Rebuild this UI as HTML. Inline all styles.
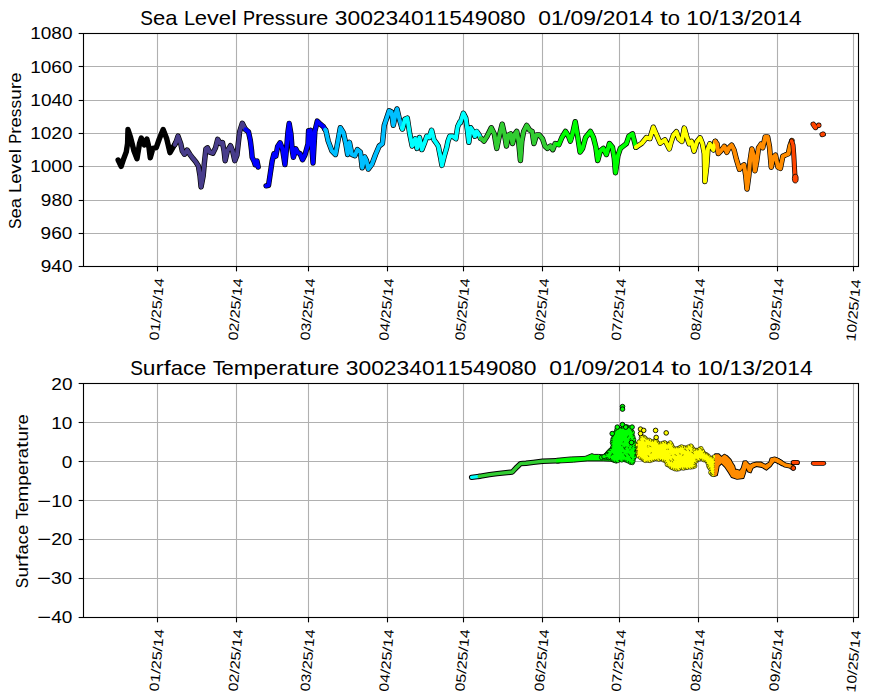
<!DOCTYPE html>
<html><head><meta charset="utf-8"><title>Sea Level Pressure and Surface Temperature</title><style>html,body{margin:0;padding:0;background:#fff;overflow:hidden}svg{display:block}</style></head>
<body><svg width="873" height="700" viewBox="0 0 873 700" font-family='"Liberation Sans", sans-serif' fill="#000">
<rect width="873" height="700" fill="#fff"/>
<line x1="157.5" y1="33.5" x2="157.5" y2="266.5" stroke="#b0b0b0" stroke-width="1.11"/>
<line x1="236.5" y1="33.5" x2="236.5" y2="266.5" stroke="#b0b0b0" stroke-width="1.11"/>
<line x1="308.5" y1="33.5" x2="308.5" y2="266.5" stroke="#b0b0b0" stroke-width="1.11"/>
<line x1="387.5" y1="33.5" x2="387.5" y2="266.5" stroke="#b0b0b0" stroke-width="1.11"/>
<line x1="463.5" y1="33.5" x2="463.5" y2="266.5" stroke="#b0b0b0" stroke-width="1.11"/>
<line x1="542.5" y1="33.5" x2="542.5" y2="266.5" stroke="#b0b0b0" stroke-width="1.11"/>
<line x1="619.5" y1="33.5" x2="619.5" y2="266.5" stroke="#b0b0b0" stroke-width="1.11"/>
<line x1="698.5" y1="33.5" x2="698.5" y2="266.5" stroke="#b0b0b0" stroke-width="1.11"/>
<line x1="777.5" y1="33.5" x2="777.5" y2="266.5" stroke="#b0b0b0" stroke-width="1.11"/>
<line x1="853.5" y1="33.5" x2="853.5" y2="266.5" stroke="#b0b0b0" stroke-width="1.11"/>
<line x1="83.5" y1="33.5" x2="858.5" y2="33.5" stroke="#b0b0b0" stroke-width="1.11"/>
<line x1="83.5" y1="66.5" x2="858.5" y2="66.5" stroke="#b0b0b0" stroke-width="1.11"/>
<line x1="83.5" y1="100.5" x2="858.5" y2="100.5" stroke="#b0b0b0" stroke-width="1.11"/>
<line x1="83.5" y1="133.5" x2="858.5" y2="133.5" stroke="#b0b0b0" stroke-width="1.11"/>
<line x1="83.5" y1="166.5" x2="858.5" y2="166.5" stroke="#b0b0b0" stroke-width="1.11"/>
<line x1="83.5" y1="200.5" x2="858.5" y2="200.5" stroke="#b0b0b0" stroke-width="1.11"/>
<line x1="83.5" y1="233.5" x2="858.5" y2="233.5" stroke="#b0b0b0" stroke-width="1.11"/>
<line x1="83.5" y1="266.5" x2="858.5" y2="266.5" stroke="#b0b0b0" stroke-width="1.11"/>
<line x1="157.5" y1="383.5" x2="157.5" y2="617.5" stroke="#b0b0b0" stroke-width="1.11"/>
<line x1="236.5" y1="383.5" x2="236.5" y2="617.5" stroke="#b0b0b0" stroke-width="1.11"/>
<line x1="308.5" y1="383.5" x2="308.5" y2="617.5" stroke="#b0b0b0" stroke-width="1.11"/>
<line x1="387.5" y1="383.5" x2="387.5" y2="617.5" stroke="#b0b0b0" stroke-width="1.11"/>
<line x1="463.5" y1="383.5" x2="463.5" y2="617.5" stroke="#b0b0b0" stroke-width="1.11"/>
<line x1="542.5" y1="383.5" x2="542.5" y2="617.5" stroke="#b0b0b0" stroke-width="1.11"/>
<line x1="619.5" y1="383.5" x2="619.5" y2="617.5" stroke="#b0b0b0" stroke-width="1.11"/>
<line x1="698.5" y1="383.5" x2="698.5" y2="617.5" stroke="#b0b0b0" stroke-width="1.11"/>
<line x1="777.5" y1="383.5" x2="777.5" y2="617.5" stroke="#b0b0b0" stroke-width="1.11"/>
<line x1="853.5" y1="383.5" x2="853.5" y2="617.5" stroke="#b0b0b0" stroke-width="1.11"/>
<line x1="83.5" y1="383.5" x2="858.5" y2="383.5" stroke="#b0b0b0" stroke-width="1.11"/>
<line x1="83.5" y1="422.5" x2="858.5" y2="422.5" stroke="#b0b0b0" stroke-width="1.11"/>
<line x1="83.5" y1="461.5" x2="858.5" y2="461.5" stroke="#b0b0b0" stroke-width="1.11"/>
<line x1="83.5" y1="500.5" x2="858.5" y2="500.5" stroke="#b0b0b0" stroke-width="1.11"/>
<line x1="83.5" y1="539.5" x2="858.5" y2="539.5" stroke="#b0b0b0" stroke-width="1.11"/>
<line x1="83.5" y1="578.5" x2="858.5" y2="578.5" stroke="#b0b0b0" stroke-width="1.11"/>
<line x1="83.5" y1="617.5" x2="858.5" y2="617.5" stroke="#b0b0b0" stroke-width="1.11"/>
<polyline points="118.14,159.99 121.14,166.41 123.71,158.7 126.28,151.85 127.57,143.28 127.99,129.57 130.57,137.28 133.99,150.99 136.99,158.7 139.56,143.28 141.28,138.14 144.28,144.99 146.85,138.99 148.99,147.56 150.27,157.84 152.84,148.42 156.27,147.56 159.27,138.99 163.13,129.57 166.56,138.14 169.98,152.7 173.41,146.71 175.98,142.42" fill="none" stroke="#000" stroke-width="5.4" stroke-linejoin="round" stroke-linecap="round"/>
<polyline points="174.82,144.63 175.89,142.49 178.03,136.06 180.71,143.56 182.32,151.06 184.46,154.27 187.14,149.99 189.81,154.27 193.03,158.55 195.7,161.77 198.38,166.05 199.99,175.69 201.06,186.93 203.2,175.69 204.27,163.91 205.88,148.92 207.48,147.84 209.63,152.13 212.84,153.2 215.52,147.84 217.66,139.28 220.33,143.56 222.48,142.49 224.08,151.06 225.15,160.7 227.3,151.06 230.51,145.7 232.65,151.06 234.79,160.7 236.93,155.34 239.61,131.78 242.29,123.21 245.5,129.64" fill="none" stroke="#000" stroke-width="5.4" stroke-linejoin="round" stroke-linecap="round"/>
<polyline points="245.46,129.42 248.5,131.85 250.32,140.35 251.53,150.06 252.14,157.34 253.96,160.99 255.17,164.63 257.0,160.99 258.21,167.06" fill="none" stroke="#000" stroke-width="5.4" stroke-linejoin="round" stroke-linecap="round"/>
<polyline points="266.1,185.87 268.53,185.27 270.35,173.13 272.17,160.99 273.99,153.7 275.81,156.13 277.63,146.42 280.06,142.78 282.49,148.85 284.92,164.63 286.74,146.42 287.95,131.85 289.17,123.35 290.99,134.28 292.2,150.06 293.41,157.34 295.84,148.85 297.66,152.49 300.09,153.7 302.52,159.77 304.95,154.92 307.98,143.99 308.59,130.64 310.41,134.28 310.61,130.2 313.03,162.98 314.86,131.42 317.28,121.1 320.32,124.14 323.35,126.56 325.17,129.6" fill="none" stroke="#000" stroke-width="5.4" stroke-linejoin="round" stroke-linecap="round"/>
<polyline points="325.17,129.6 325.78,130.2 328.21,141.13 331.85,150.84 335.49,154.48 337.92,141.13 340.35,127.78 343.38,132.63 345.81,143.56 347.63,154.48 349.45,142.34 351.88,154.48 354.92,155.7 357.34,149.63 360.38,152.06 362.2,167.84 364.63,156.91 366.45,160.55 368.27,169.05 371.91,164.2 375.55,154.48 379.2,145.99 382.43,143.56 384.25,125.35 386.68,118.07 389.1,110.78 391.53,112.0 393.35,125.35 395.17,115.64 397.0,108.96 399.42,119.28 401.85,127.78" fill="none" stroke="#000" stroke-width="5.4" stroke-linejoin="round" stroke-linecap="round"/>
<polyline points="401.85,127.78 402.46,128.99 404.89,119.28 407.31,118.07 409.74,133.85 412.17,145.99 415.2,138.7 417.03,148.41 419.45,137.49 421.88,149.63 424.31,143.56 426.74,136.27 429.17,137.49 431.59,130.2 434.02,139.92 435.84,142.34 438.27,145.99 440.7,158.13 441.91,165.41 444.34,155.7 446.77,147.2 447.98,141.13 449.8,136.27 452.84,136.27 455.87,138.7 457.69,126.56 460.0,121.71 460.32,122.92 463.35,113.21 465.78,118.07 467.6,131.42 468.82,142.34 470.64,127.78 473.07,131.42 474.89,136.27 476.71,131.42 479.14,135.06 480.59,138.34" fill="none" stroke="#000" stroke-width="5.4" stroke-linejoin="round" stroke-linecap="round"/>
<polyline points="480.59,138.34 481.56,138.7 483.99,141.13 487.03,136.27 491.27,127.78 494.31,133.85 496.74,148.41 499.77,133.85 502.2,124.14 504.63,135.06 506.45,145.99 508.27,135.06 510.7,133.85 512.52,143.56 514.95,133.85 516.77,131.42 518.59,141.13 520.41,160.55 521.82,141.13 523.64,131.42 526.68,125.35 529.71,130.2 532.14,131.42 533.96,143.56 536.39,135.06 539.42,135.06 542.46,138.7 544.89,145.99 547.31,148.41 550.35,145.99 552.78,149.63 555.2,143.56 556.66,144.17" fill="none" stroke="#000" stroke-width="5.4" stroke-linejoin="round" stroke-linecap="round"/>
<polyline points="556.66,144.17 558.85,144.77 561.88,137.49 565.52,131.42 568.56,136.27 570.38,141.13 572.81,132.63 575.24,121.71 577.66,136.27 580.09,152.06 582.52,148.41 585.55,137.49 590.41,131.42 593.44,137.49 595.87,147.2 597.69,160.55 600.32,150.84 603.35,148.41 606.39,154.48 609.42,143.56 612.46,147.2 614.28,158.13 615.49,172.69 617.92,155.7 620.35,148.41 623.38,145.99 626.42,143.56 628.85,136.27 632.49,133.85 634.31,141.13 635.89,147.2" fill="none" stroke="#000" stroke-width="5.4" stroke-linejoin="round" stroke-linecap="round"/>
<polyline points="635.9,147.2 641.9,143.2 646.4,137.5 649.9,138.6 653.3,127.2 656.7,135.2 660.2,143.2 664.8,139.8 669.3,148.9 670.93,142.63 673.35,135.35 676.39,131.71 678.82,138.99 681.85,141.42 684.28,128.07 686.71,136.56 689.14,143.85 691.56,141.42 693.99,151.13 697.03,141.42 700.06,137.78 702.49,143.85 704.31,153.56 704.92,181.48 706.74,165.7 707.95,148.7 709.77,143.85 713.41,149.92 715.24,141.42" fill="none" stroke="#000" stroke-width="5.4" stroke-linejoin="round" stroke-linecap="round"/>
<polyline points="715.24,141.42 717.06,143.85 718.27,153.56 720.7,151.13 724.34,146.27 726.77,152.34 729.2,147.49 731.62,145.06 734.05,149.92 736.48,159.63 739.51,169.34 740.93,167.2 743.96,164.77 745.78,175.7 747.0,189.05 748.82,175.7 750.03,161.13 751.85,148.99 753.67,156.27 754.89,170.84 756.71,161.13 758.53,147.78 760.96,144.14 762.78,147.78 765.2,136.85 767.63,136.85 769.45,146.56 771.27,167.2 773.1,157.49 775.52,155.06 777.95,167.2 780.38,168.41 782.81,156.27 785.24,155.06 788.27,153.85 790.09,145.35 791.91,140.49" fill="none" stroke="#000" stroke-width="5.4" stroke-linejoin="round" stroke-linecap="round"/>
<polyline points="813.25,124.25 815.5,127.5" fill="none" stroke="#000" stroke-width="5.4" stroke-linejoin="round" stroke-linecap="round"/>
<polyline points="818.75,125.25 818.75,125.25" fill="none" stroke="#000" stroke-width="5.4" stroke-linejoin="round" stroke-linecap="round"/>
<polyline points="822.2,134.5 823.2,134.2" fill="none" stroke="#000" stroke-width="5.4" stroke-linejoin="round" stroke-linecap="round"/>
<polyline points="118.14,159.99 121.14,166.41 123.71,158.7 126.28,151.85 127.57,143.28 127.99,129.57 130.57,137.28 133.99,150.99 136.99,158.7 139.56,143.28 141.28,138.14 144.28,144.99 146.85,138.99 148.99,147.56 150.27,157.84 152.84,148.42 156.27,147.56 159.27,138.99 163.13,129.57 166.56,138.14 169.98,152.7 173.41,146.71 175.98,142.42" fill="none" stroke="#000000" stroke-width="4.0" stroke-linejoin="round" stroke-linecap="round"/>
<polyline points="174.82,144.63 175.89,142.49 178.03,136.06 180.71,143.56 182.32,151.06 184.46,154.27 187.14,149.99 189.81,154.27 193.03,158.55 195.7,161.77 198.38,166.05 199.99,175.69 201.06,186.93 203.2,175.69 204.27,163.91 205.88,148.92 207.48,147.84 209.63,152.13 212.84,153.2 215.52,147.84 217.66,139.28 220.33,143.56 222.48,142.49 224.08,151.06 225.15,160.7 227.3,151.06 230.51,145.7 232.65,151.06 234.79,160.7 236.93,155.34 239.61,131.78 242.29,123.21 245.5,129.64" fill="none" stroke="#483d8b" stroke-width="4.0" stroke-linejoin="round" stroke-linecap="round"/>
<polyline points="245.46,129.42 248.5,131.85 250.32,140.35 251.53,150.06 252.14,157.34 253.96,160.99 255.17,164.63 257.0,160.99 258.21,167.06" fill="none" stroke="#0000ff" stroke-width="4.0" stroke-linejoin="round" stroke-linecap="round"/>
<polyline points="266.1,185.87 268.53,185.27 270.35,173.13 272.17,160.99 273.99,153.7 275.81,156.13 277.63,146.42 280.06,142.78 282.49,148.85 284.92,164.63 286.74,146.42 287.95,131.85 289.17,123.35 290.99,134.28 292.2,150.06 293.41,157.34 295.84,148.85 297.66,152.49 300.09,153.7 302.52,159.77 304.95,154.92 307.98,143.99 308.59,130.64 310.41,134.28 310.61,130.2 313.03,162.98 314.86,131.42 317.28,121.1 320.32,124.14 323.35,126.56 325.17,129.6" fill="none" stroke="#0000ff" stroke-width="4.0" stroke-linejoin="round" stroke-linecap="round"/>
<polyline points="325.17,129.6 325.78,130.2 328.21,141.13 331.85,150.84 335.49,154.48 337.92,141.13 340.35,127.78 343.38,132.63 345.81,143.56 347.63,154.48 349.45,142.34 351.88,154.48 354.92,155.7 357.34,149.63 360.38,152.06 362.2,167.84 364.63,156.91 366.45,160.55 368.27,169.05 371.91,164.2 375.55,154.48 379.2,145.99 382.43,143.56 384.25,125.35 386.68,118.07 389.1,110.78 391.53,112.0 393.35,125.35 395.17,115.64 397.0,108.96 399.42,119.28 401.85,127.78" fill="none" stroke="#00bfff" stroke-width="4.0" stroke-linejoin="round" stroke-linecap="round"/>
<polyline points="401.85,127.78 402.46,128.99 404.89,119.28 407.31,118.07 409.74,133.85 412.17,145.99 415.2,138.7 417.03,148.41 419.45,137.49 421.88,149.63 424.31,143.56 426.74,136.27 429.17,137.49 431.59,130.2 434.02,139.92 435.84,142.34 438.27,145.99 440.7,158.13 441.91,165.41 444.34,155.7 446.77,147.2 447.98,141.13 449.8,136.27 452.84,136.27 455.87,138.7 457.69,126.56 460.0,121.71 460.32,122.92 463.35,113.21 465.78,118.07 467.6,131.42 468.82,142.34 470.64,127.78 473.07,131.42 474.89,136.27 476.71,131.42 479.14,135.06 480.59,138.34" fill="none" stroke="#00ffff" stroke-width="4.0" stroke-linejoin="round" stroke-linecap="round"/>
<polyline points="480.59,138.34 481.56,138.7 483.99,141.13 487.03,136.27 491.27,127.78 494.31,133.85 496.74,148.41 499.77,133.85 502.2,124.14 504.63,135.06 506.45,145.99 508.27,135.06 510.7,133.85 512.52,143.56 514.95,133.85 516.77,131.42 518.59,141.13 520.41,160.55 521.82,141.13 523.64,131.42 526.68,125.35 529.71,130.2 532.14,131.42 533.96,143.56 536.39,135.06 539.42,135.06 542.46,138.7 544.89,145.99 547.31,148.41 550.35,145.99 552.78,149.63 555.2,143.56 556.66,144.17" fill="none" stroke="#32cd32" stroke-width="4.0" stroke-linejoin="round" stroke-linecap="round"/>
<polyline points="556.66,144.17 558.85,144.77 561.88,137.49 565.52,131.42 568.56,136.27 570.38,141.13 572.81,132.63 575.24,121.71 577.66,136.27 580.09,152.06 582.52,148.41 585.55,137.49 590.41,131.42 593.44,137.49 595.87,147.2 597.69,160.55 600.32,150.84 603.35,148.41 606.39,154.48 609.42,143.56 612.46,147.2 614.28,158.13 615.49,172.69 617.92,155.7 620.35,148.41 623.38,145.99 626.42,143.56 628.85,136.27 632.49,133.85 634.31,141.13 635.89,147.2" fill="none" stroke="#00ff00" stroke-width="4.0" stroke-linejoin="round" stroke-linecap="round"/>
<polyline points="635.9,147.2 641.9,143.2 646.4,137.5 649.9,138.6 653.3,127.2 656.7,135.2 660.2,143.2 664.8,139.8 669.3,148.9 670.93,142.63 673.35,135.35 676.39,131.71 678.82,138.99 681.85,141.42 684.28,128.07 686.71,136.56 689.14,143.85 691.56,141.42 693.99,151.13 697.03,141.42 700.06,137.78 702.49,143.85 704.31,153.56 704.92,181.48 706.74,165.7 707.95,148.7 709.77,143.85 713.41,149.92 715.24,141.42" fill="none" stroke="#ffff00" stroke-width="4.0" stroke-linejoin="round" stroke-linecap="round"/>
<polyline points="715.24,141.42 717.06,143.85 718.27,153.56 720.7,151.13 724.34,146.27 726.77,152.34 729.2,147.49 731.62,145.06 734.05,149.92 736.48,159.63 739.51,169.34 740.93,167.2 743.96,164.77 745.78,175.7 747.0,189.05 748.82,175.7 750.03,161.13 751.85,148.99 753.67,156.27 754.89,170.84 756.71,161.13 758.53,147.78 760.96,144.14 762.78,147.78 765.2,136.85 767.63,136.85 769.45,146.56 771.27,167.2 773.1,157.49 775.52,155.06 777.95,167.2 780.38,168.41 782.81,156.27 785.24,155.06 788.27,153.85 790.09,145.35 791.91,140.49" fill="none" stroke="#ff8c00" stroke-width="4.0" stroke-linejoin="round" stroke-linecap="round"/>
<polyline points="813.25,124.25 815.5,127.5" fill="none" stroke="#ff4500" stroke-width="4.0" stroke-linejoin="round" stroke-linecap="round"/>
<polyline points="818.75,125.25 818.75,125.25" fill="none" stroke="#ff4500" stroke-width="4.0" stroke-linejoin="round" stroke-linecap="round"/>
<polyline points="822.2,134.5 823.2,134.2" fill="none" stroke="#ff4500" stroke-width="4.0" stroke-linejoin="round" stroke-linecap="round"/>
<polyline points="791.6,141.0 793.0,145.0 793.8,155.0 794.5,168.0 795.0,176.0" fill="none" stroke="#000" stroke-width="5.0" stroke-linejoin="round" stroke-linecap="round"/><polyline points="791.6,141.0 793.0,145.0 793.8,155.0 794.5,168.0 795.0,176.0" fill="none" stroke="#ff4500" stroke-width="3.6" stroke-linejoin="round" stroke-linecap="round"/><ellipse cx="795.3" cy="178.6" rx="2.9" ry="4.4" fill="#ff4500" stroke="#000" stroke-width="0.8"/>
<polyline points="471.6,477.4 479.2,476.4" fill="none" stroke="#000" stroke-width="5.4" stroke-linejoin="round" stroke-linecap="round"/>
<polyline points="479.2,476.4 489.5,474.6 497.2,473.6 512.3,472.0 516.8,467.2 520.5,463.6 526,463.2 533.3,462.4 542.5,461.3 556.5,460.7 558.5,460.7" fill="none" stroke="#000" stroke-width="5.4" stroke-linejoin="round" stroke-linecap="round"/>
<polyline points="471.6,477.4 479.2,476.4" fill="none" stroke="#00ffff" stroke-width="3.4" stroke-linejoin="round" stroke-linecap="round"/>
<polyline points="479.2,476.4 489.5,474.6 497.2,473.6 512.3,472.0 516.8,467.2 520.5,463.6 526,463.2 533.3,462.4 542.5,461.3 556.5,460.7 558.5,460.7" fill="none" stroke="#32cd32" stroke-width="3.4" stroke-linejoin="round" stroke-linecap="round"/>
<polyline points="777.0,460.3 781.0,462.6 785.1,465.0 790,466.0 790.05,466.06 792.85,467.67" fill="none" stroke="#000" stroke-width="5.2" stroke-linejoin="round" stroke-linecap="round"/>
<polygon points="556.3,458.3 571.2,456.9 585,456.4 591.9,453.6 594.1,454.4 598.7,454.4 603.3,454.9 607.9,449.8 610.2,447.5 617,447 617,463 610.2,461.2 603.3,460.9 587.3,460.9 573.5,462.2 556.3,463.1" fill="#00ff00" stroke="none"/>
<polyline points="556.3,458.3 571.2,456.9 585,456.4 591.9,453.6 594.1,454.4 598.7,454.4 603.3,454.9 607.9,449.8 610.2,447.5 617,447" fill="none" stroke="#000" stroke-width="0.9"/>
<polyline points="617,463 610.2,461.2 603.3,460.9 587.3,460.9 573.5,462.2 556.3,463.1" fill="none" stroke="#000" stroke-width="0.9"/>
<circle cx="601.6" cy="457.4" r="2.25" fill="#00ff00" stroke="#000" stroke-width="0.7"/><circle cx="604.2" cy="457.0" r="2.25" fill="#00ff00" stroke="#000" stroke-width="0.7"/><circle cx="606.1" cy="457.2" r="2.25" fill="#00ff00" stroke="#000" stroke-width="0.7"/><circle cx="608.5" cy="457.6" r="2.25" fill="#00ff00" stroke="#000" stroke-width="0.7"/><circle cx="609.9" cy="457.3" r="2.25" fill="#00ff00" stroke="#000" stroke-width="0.7"/><circle cx="612.5" cy="459.2" r="2.25" fill="#00ff00" stroke="#000" stroke-width="0.7"/><circle cx="614.1" cy="460.1" r="2.25" fill="#00ff00" stroke="#000" stroke-width="0.7"/><circle cx="615.8" cy="460.8" r="2.25" fill="#00ff00" stroke="#000" stroke-width="0.7"/><circle cx="617.7" cy="460.6" r="2.25" fill="#00ff00" stroke="#000" stroke-width="0.7"/><circle cx="620.7" cy="459.3" r="2.25" fill="#00ff00" stroke="#000" stroke-width="0.7"/><circle cx="621.8" cy="459.9" r="2.25" fill="#00ff00" stroke="#000" stroke-width="0.7"/><circle cx="625.1" cy="459.7" r="2.25" fill="#00ff00" stroke="#000" stroke-width="0.7"/><circle cx="626.4" cy="460.0" r="2.25" fill="#00ff00" stroke="#000" stroke-width="0.7"/><circle cx="628.1" cy="460.9" r="2.25" fill="#00ff00" stroke="#000" stroke-width="0.7"/><circle cx="630.5" cy="462.3" r="2.25" fill="#00ff00" stroke="#000" stroke-width="0.7"/><circle cx="632.3" cy="462.5" r="2.25" fill="#00ff00" stroke="#000" stroke-width="0.7"/><circle cx="633.0" cy="460.9" r="2.25" fill="#00ff00" stroke="#000" stroke-width="0.7"/><circle cx="633.5" cy="458.2" r="2.25" fill="#00ff00" stroke="#000" stroke-width="0.7"/><circle cx="634.4" cy="456.6" r="2.25" fill="#00ff00" stroke="#000" stroke-width="0.7"/><circle cx="634.2" cy="454.0" r="2.25" fill="#00ff00" stroke="#000" stroke-width="0.7"/><circle cx="634.6" cy="452.6" r="2.25" fill="#00ff00" stroke="#000" stroke-width="0.7"/><circle cx="633.5" cy="449.7" r="2.25" fill="#00ff00" stroke="#000" stroke-width="0.7"/><circle cx="634.3" cy="448.0" r="2.25" fill="#00ff00" stroke="#000" stroke-width="0.7"/><circle cx="634.5" cy="445.4" r="2.25" fill="#00ff00" stroke="#000" stroke-width="0.7"/><circle cx="634.3" cy="443.5" r="2.25" fill="#00ff00" stroke="#000" stroke-width="0.7"/><circle cx="633.3" cy="441.2" r="2.25" fill="#00ff00" stroke="#000" stroke-width="0.7"/><circle cx="633.6" cy="439.4" r="2.25" fill="#00ff00" stroke="#000" stroke-width="0.7"/><circle cx="632.8" cy="436.9" r="2.25" fill="#00ff00" stroke="#000" stroke-width="0.7"/><circle cx="631.9" cy="434.3" r="2.25" fill="#00ff00" stroke="#000" stroke-width="0.7"/><circle cx="632.3" cy="432.3" r="2.25" fill="#00ff00" stroke="#000" stroke-width="0.7"/><circle cx="630.8" cy="430.4" r="2.25" fill="#00ff00" stroke="#000" stroke-width="0.7"/><circle cx="630.5" cy="428.7" r="2.25" fill="#00ff00" stroke="#000" stroke-width="0.7"/><circle cx="628.2" cy="427.4" r="2.25" fill="#00ff00" stroke="#000" stroke-width="0.7"/><circle cx="626.3" cy="426.8" r="2.25" fill="#00ff00" stroke="#000" stroke-width="0.7"/><circle cx="624.7" cy="427.6" r="2.25" fill="#00ff00" stroke="#000" stroke-width="0.7"/><circle cx="623.0" cy="428.5" r="2.25" fill="#00ff00" stroke="#000" stroke-width="0.7"/><circle cx="620.2" cy="429.4" r="2.25" fill="#00ff00" stroke="#000" stroke-width="0.7"/><circle cx="619.2" cy="429.2" r="2.25" fill="#00ff00" stroke="#000" stroke-width="0.7"/><circle cx="616.8" cy="429.9" r="2.25" fill="#00ff00" stroke="#000" stroke-width="0.7"/><circle cx="615.7" cy="432.6" r="2.25" fill="#00ff00" stroke="#000" stroke-width="0.7"/><circle cx="614.8" cy="433.9" r="2.25" fill="#00ff00" stroke="#000" stroke-width="0.7"/><circle cx="614.1" cy="435.6" r="2.25" fill="#00ff00" stroke="#000" stroke-width="0.7"/><circle cx="613.2" cy="438.6" r="2.25" fill="#00ff00" stroke="#000" stroke-width="0.7"/><circle cx="612.9" cy="440.2" r="2.25" fill="#00ff00" stroke="#000" stroke-width="0.7"/><circle cx="612.4" cy="442.5" r="2.25" fill="#00ff00" stroke="#000" stroke-width="0.7"/><circle cx="613.1" cy="444.1" r="2.25" fill="#00ff00" stroke="#000" stroke-width="0.7"/><circle cx="612.7" cy="447.2" r="2.25" fill="#00ff00" stroke="#000" stroke-width="0.7"/><circle cx="612.3" cy="449.2" r="2.25" fill="#00ff00" stroke="#000" stroke-width="0.7"/><circle cx="610.8" cy="450.7" r="2.25" fill="#00ff00" stroke="#000" stroke-width="0.7"/><circle cx="609.1" cy="452.3" r="2.25" fill="#00ff00" stroke="#000" stroke-width="0.7"/><circle cx="607.2" cy="454.6" r="2.25" fill="#00ff00" stroke="#000" stroke-width="0.7"/><circle cx="606.3" cy="455.4" r="2.25" fill="#00ff00" stroke="#000" stroke-width="0.7"/><circle cx="604.1" cy="456.4" r="2.25" fill="#00ff00" stroke="#000" stroke-width="0.7"/><polygon points="602.0,457.0 602.0,457.3 609.0,457.3 609.2,457.3 609.4,457.3 609.6,457.4 609.8,457.4 610.0,457.5 610.1,457.6 610.3,457.8 614.0,461.0 618.8,459.9 619.1,459.9 619.3,459.8 625.7,459.8 625.9,459.9 626.1,459.9 626.3,459.9 626.5,460.0 626.7,460.1 631.8,462.9 633.0,462.7 634.0,457.8 634.0,444.0 632.1,432.8 630.5,428.6 626.1,426.4 623.9,428.5 623.8,428.7 623.6,428.8 623.4,428.9 623.3,429.0 623.1,429.0 622.9,429.1 622.7,429.1 622.5,429.1 617.8,429.1 614.1,434.4 612.9,439.0 612.3,447.8 612.3,448.0 612.2,448.2 612.1,448.4 612.1,448.6 612.0,448.8 611.8,448.9 606.7,455.4 606.6,455.5 606.4,455.6 606.3,455.8 606.1,455.9 606.0,455.9 605.8,456.0 605.6,456.1 602.0,457.0" fill="#00ff00" stroke="none"/><circle cx="619.2" cy="449.2" r="2.25" fill="none" stroke="#000" stroke-width="0.6" stroke-dasharray="3.4 20" stroke-dashoffset="8.6"/><circle cx="629.5" cy="455.6" r="2.25" fill="none" stroke="#000" stroke-width="0.6" stroke-dasharray="4.4 20" stroke-dashoffset="11.2"/><circle cx="626.2" cy="435.5" r="2.25" fill="none" stroke="#000" stroke-width="0.6" stroke-dasharray="3.9 20" stroke-dashoffset="1.5"/><circle cx="624.8" cy="443.0" r="2.25" fill="none" stroke="#000" stroke-width="0.6" stroke-dasharray="3.4 20" stroke-dashoffset="4.5"/><circle cx="618.3" cy="434.0" r="2.25" fill="none" stroke="#000" stroke-width="0.6" stroke-dasharray="4.5 20" stroke-dashoffset="8.5"/><circle cx="623.7" cy="446.3" r="2.25" fill="none" stroke="#000" stroke-width="0.6" stroke-dasharray="4.9 20" stroke-dashoffset="3.1"/><circle cx="627.5" cy="445.3" r="2.25" fill="none" stroke="#000" stroke-width="0.6" stroke-dasharray="3.9 20" stroke-dashoffset="3.1"/><circle cx="614.6" cy="447.4" r="2.25" fill="none" stroke="#000" stroke-width="0.6" stroke-dasharray="3.9 20" stroke-dashoffset="4.5"/><circle cx="625.8" cy="441.6" r="2.25" fill="none" stroke="#000" stroke-width="0.6" stroke-dasharray="2.0 20" stroke-dashoffset="3.5"/><circle cx="620.2" cy="432.6" r="2.25" fill="none" stroke="#000" stroke-width="0.6" stroke-dasharray="4.9 20" stroke-dashoffset="12.1"/><circle cx="624.5" cy="445.0" r="2.25" fill="none" stroke="#000" stroke-width="0.6" stroke-dasharray="3.0 20" stroke-dashoffset="5.3"/><circle cx="623.6" cy="457.0" r="2.25" fill="none" stroke="#000" stroke-width="0.6" stroke-dasharray="3.0 20" stroke-dashoffset="13.1"/><circle cx="630.2" cy="451.5" r="2.25" fill="none" stroke="#000" stroke-width="0.6" stroke-dasharray="5.0 20" stroke-dashoffset="6.8"/><circle cx="626.3" cy="448.3" r="2.25" fill="none" stroke="#000" stroke-width="0.6" stroke-dasharray="3.1 20" stroke-dashoffset="11.8"/><circle cx="629.7" cy="448.5" r="2.25" fill="none" stroke="#000" stroke-width="0.6" stroke-dasharray="4.7 20" stroke-dashoffset="13.4"/><circle cx="627.2" cy="456.7" r="2.25" fill="none" stroke="#000" stroke-width="0.6" stroke-dasharray="3.8 20" stroke-dashoffset="4.8"/><circle cx="627.0" cy="440.2" r="2.25" fill="none" stroke="#000" stroke-width="0.6" stroke-dasharray="2.7 20" stroke-dashoffset="8.0"/><circle cx="630.5" cy="447.0" r="2.25" fill="none" stroke="#000" stroke-width="0.6" stroke-dasharray="3.4 20" stroke-dashoffset="13.0"/><circle cx="610.9" cy="455.2" r="2.25" fill="none" stroke="#000" stroke-width="0.6" stroke-dasharray="2.0 20" stroke-dashoffset="11.6"/><circle cx="631.1" cy="437.1" r="2.25" fill="none" stroke="#000" stroke-width="0.6" stroke-dasharray="3.4 20" stroke-dashoffset="3.5"/><circle cx="621.1" cy="442.8" r="2.25" fill="none" stroke="#000" stroke-width="0.6" stroke-dasharray="2.2 20" stroke-dashoffset="4.4"/><circle cx="624.0" cy="450.6" r="2.25" fill="none" stroke="#000" stroke-width="0.6" stroke-dasharray="3.6 20" stroke-dashoffset="3.6"/><circle cx="622.9" cy="449.9" r="2.25" fill="none" stroke="#000" stroke-width="0.6" stroke-dasharray="3.2 20" stroke-dashoffset="13.2"/><circle cx="630.6" cy="437.4" r="2.25" fill="none" stroke="#000" stroke-width="0.6" stroke-dasharray="3.6 20" stroke-dashoffset="4.7"/><circle cx="620.5" cy="448.2" r="2.25" fill="none" stroke="#000" stroke-width="0.6" stroke-dasharray="2.1 20" stroke-dashoffset="3.4"/><circle cx="611.3" cy="455.3" r="2.25" fill="none" stroke="#000" stroke-width="0.6" stroke-dasharray="4.6 20" stroke-dashoffset="6.9"/><circle cx="627.4" cy="429.2" r="2.25" fill="none" stroke="#000" stroke-width="0.6" stroke-dasharray="2.5 20" stroke-dashoffset="13.3"/><circle cx="628.3" cy="438.1" r="2.25" fill="none" stroke="#000" stroke-width="0.6" stroke-dasharray="3.5 20" stroke-dashoffset="1.5"/><circle cx="628.9" cy="453.7" r="2.25" fill="none" stroke="#000" stroke-width="0.6" stroke-dasharray="2.5 20" stroke-dashoffset="9.7"/><circle cx="624.9" cy="450.8" r="2.25" fill="none" stroke="#000" stroke-width="0.6" stroke-dasharray="2.2 20" stroke-dashoffset="3.5"/><circle cx="619.6" cy="446.2" r="2.25" fill="none" stroke="#000" stroke-width="0.6" stroke-dasharray="3.4 20" stroke-dashoffset="11.9"/><circle cx="614.7" cy="438.7" r="2.25" fill="none" stroke="#000" stroke-width="0.6" stroke-dasharray="2.1 20" stroke-dashoffset="3.6"/><circle cx="622.7" cy="441.6" r="2.25" fill="none" stroke="#000" stroke-width="0.6" stroke-dasharray="2.2 20" stroke-dashoffset="8.0"/><circle cx="628.5" cy="440.9" r="2.25" fill="none" stroke="#000" stroke-width="0.6" stroke-dasharray="3.8 20" stroke-dashoffset="5.6"/><circle cx="618.9" cy="444.7" r="2.25" fill="none" stroke="#000" stroke-width="0.6" stroke-dasharray="3.3 20" stroke-dashoffset="9.1"/><circle cx="624.0" cy="453.1" r="2.25" fill="none" stroke="#000" stroke-width="0.6" stroke-dasharray="3.5 20" stroke-dashoffset="3.3"/><circle cx="617.3" cy="434.6" r="2.25" fill="none" stroke="#000" stroke-width="0.6" stroke-dasharray="3.7 20" stroke-dashoffset="5.8"/><circle cx="631.0" cy="459.9" r="2.25" fill="none" stroke="#000" stroke-width="0.6" stroke-dasharray="3.9 20" stroke-dashoffset="3.9"/><circle cx="630.2" cy="437.8" r="2.25" fill="none" stroke="#000" stroke-width="0.6" stroke-dasharray="4.5 20" stroke-dashoffset="9.7"/><circle cx="613.9" cy="452.0" r="2.25" fill="none" stroke="#000" stroke-width="0.6" stroke-dasharray="3.8 20" stroke-dashoffset="10.3"/><circle cx="629.4" cy="459.2" r="2.25" fill="none" stroke="#000" stroke-width="0.6" stroke-dasharray="3.7 20" stroke-dashoffset="13.4"/><circle cx="623.8" cy="452.6" r="2.25" fill="none" stroke="#000" stroke-width="0.6" stroke-dasharray="3.5 20" stroke-dashoffset="4.9"/><circle cx="627.8" cy="449.3" r="2.25" fill="none" stroke="#000" stroke-width="0.6" stroke-dasharray="4.7 20" stroke-dashoffset="3.7"/><circle cx="626.8" cy="457.2" r="2.25" fill="none" stroke="#000" stroke-width="0.6" stroke-dasharray="4.1 20" stroke-dashoffset="9.2"/><circle cx="627.7" cy="442.2" r="2.25" fill="none" stroke="#000" stroke-width="0.6" stroke-dasharray="3.0 20" stroke-dashoffset="2.3"/><circle cx="621.2" cy="441.3" r="2.25" fill="none" stroke="#000" stroke-width="0.6" stroke-dasharray="2.9 20" stroke-dashoffset="1.7"/><circle cx="609.9" cy="453.8" r="2.25" fill="none" stroke="#000" stroke-width="0.6" stroke-dasharray="2.6 20" stroke-dashoffset="0.1"/><circle cx="622.1" cy="448.5" r="2.25" fill="none" stroke="#000" stroke-width="0.6" stroke-dasharray="2.6 20" stroke-dashoffset="11.7"/><circle cx="627.3" cy="455.9" r="2.25" fill="none" stroke="#000" stroke-width="0.6" stroke-dasharray="3.6 20" stroke-dashoffset="13.6"/><circle cx="617.7" cy="457.7" r="2.25" fill="none" stroke="#000" stroke-width="0.6" stroke-dasharray="3.7 20" stroke-dashoffset="10.8"/><circle cx="620.3" cy="437.7" r="2.25" fill="none" stroke="#000" stroke-width="0.6" stroke-dasharray="3.1 20" stroke-dashoffset="7.0"/><circle cx="616.1" cy="442.8" r="2.25" fill="none" stroke="#000" stroke-width="0.6" stroke-dasharray="3.2 20" stroke-dashoffset="4.3"/><circle cx="627.1" cy="451.4" r="2.25" fill="none" stroke="#000" stroke-width="0.6" stroke-dasharray="3.9 20" stroke-dashoffset="6.9"/><circle cx="628.5" cy="445.0" r="2.25" fill="none" stroke="#000" stroke-width="0.6" stroke-dasharray="3.4 20" stroke-dashoffset="13.8"/><circle cx="628.7" cy="441.3" r="2.25" fill="none" stroke="#000" stroke-width="0.6" stroke-dasharray="5.0 20" stroke-dashoffset="10.4"/><circle cx="621.8" cy="445.8" r="2.25" fill="none" stroke="#000" stroke-width="0.6" stroke-dasharray="2.0 20" stroke-dashoffset="5.0"/><circle cx="614.4" cy="441.9" r="2.25" fill="none" stroke="#000" stroke-width="0.6" stroke-dasharray="4.6 20" stroke-dashoffset="5.7"/><circle cx="620.7" cy="453.2" r="2.25" fill="none" stroke="#000" stroke-width="0.6" stroke-dasharray="4.2 20" stroke-dashoffset="12.6"/><circle cx="617.8" cy="453.6" r="2.25" fill="none" stroke="#000" stroke-width="0.6" stroke-dasharray="3.9 20" stroke-dashoffset="9.0"/><circle cx="622.1" cy="441.2" r="2.25" fill="none" stroke="#000" stroke-width="0.6" stroke-dasharray="3.9 20" stroke-dashoffset="8.8"/>
<polygon points="715.08,454.16 718.75,454.16 721.49,456.91 724.24,454.62 726.99,456.0 730.66,459.66 732.49,463.33 734.32,466.08 735.24,469.74 737.07,469.74 739.82,470.66 741.66,467.91 743.49,461.49 746.24,461.04 748.07,463.33 749.9,464.7 752.65,463.33 756.32,462.41 760.9,462.41 765.48,464.7 769.15,462.41 770.52,458.29 774.64,457.37 778.31,458.75 781.98,461.04 781.98,465.34 778.31,463.33 774.64,461.49 772.81,463.33 770.98,466.08 766.4,469.74 761.82,466.99 756.32,466.08 752.65,467.91 750.82,472.49 748.07,471.58 746.24,467.91 745.32,472.49 743.49,477.99 737.07,478.91 731.58,477.07 728.83,472.49 725.16,466.99 721.49,463.33 718.75,466.08 717.83,471.58 716.91,475.24 714.16,476.16" fill="none" stroke="#000" stroke-width="1.8" stroke-linejoin="round"/>
<circle cx="638.5" cy="443.9" r="2.25" fill="#ffff00" stroke="#000" stroke-width="0.6"/><circle cx="637.5" cy="445.1" r="2.25" fill="#ffff00" stroke="#000" stroke-width="0.6"/><circle cx="638.4" cy="448.1" r="2.25" fill="#ffff00" stroke="#000" stroke-width="0.6"/><circle cx="638.2" cy="449.8" r="2.25" fill="#ffff00" stroke="#000" stroke-width="0.6"/><circle cx="638.1" cy="452.4" r="2.25" fill="#ffff00" stroke="#000" stroke-width="0.6"/><circle cx="638.1" cy="454.0" r="2.25" fill="#ffff00" stroke="#000" stroke-width="0.6"/><circle cx="638.6" cy="455.9" r="2.25" fill="#ffff00" stroke="#000" stroke-width="0.6"/><circle cx="640.8" cy="457.6" r="2.25" fill="#ffff00" stroke="#000" stroke-width="0.6"/><circle cx="642.8" cy="458.5" r="2.25" fill="#ffff00" stroke="#000" stroke-width="0.6"/><circle cx="644.0" cy="459.5" r="2.25" fill="#ffff00" stroke="#000" stroke-width="0.6"/><circle cx="645.2" cy="460.4" r="2.25" fill="#ffff00" stroke="#000" stroke-width="0.6"/><circle cx="647.9" cy="460.3" r="2.25" fill="#ffff00" stroke="#000" stroke-width="0.6"/><circle cx="650.0" cy="460.5" r="2.25" fill="#ffff00" stroke="#000" stroke-width="0.6"/><circle cx="652.3" cy="459.7" r="2.25" fill="#ffff00" stroke="#000" stroke-width="0.6"/><circle cx="654.2" cy="458.7" r="2.25" fill="#ffff00" stroke="#000" stroke-width="0.6"/><circle cx="656.5" cy="458.5" r="2.25" fill="#ffff00" stroke="#000" stroke-width="0.6"/><circle cx="658.9" cy="459.2" r="2.25" fill="#ffff00" stroke="#000" stroke-width="0.6"/><circle cx="661.2" cy="458.6" r="2.25" fill="#ffff00" stroke="#000" stroke-width="0.6"/><circle cx="663.6" cy="459.9" r="2.25" fill="#ffff00" stroke="#000" stroke-width="0.6"/><circle cx="665.6" cy="460.6" r="2.25" fill="#ffff00" stroke="#000" stroke-width="0.6"/><circle cx="666.8" cy="462.2" r="2.25" fill="#ffff00" stroke="#000" stroke-width="0.6"/><circle cx="667.3" cy="464.5" r="2.25" fill="#ffff00" stroke="#000" stroke-width="0.6"/><circle cx="669.2" cy="465.3" r="2.25" fill="#ffff00" stroke="#000" stroke-width="0.6"/><circle cx="671.0" cy="466.9" r="2.25" fill="#ffff00" stroke="#000" stroke-width="0.6"/><circle cx="672.6" cy="467.7" r="2.25" fill="#ffff00" stroke="#000" stroke-width="0.6"/><circle cx="674.8" cy="468.7" r="2.25" fill="#ffff00" stroke="#000" stroke-width="0.6"/><circle cx="676.9" cy="469.1" r="2.25" fill="#ffff00" stroke="#000" stroke-width="0.6"/><circle cx="678.9" cy="468.7" r="2.25" fill="#ffff00" stroke="#000" stroke-width="0.6"/><circle cx="681.7" cy="467.7" r="2.25" fill="#ffff00" stroke="#000" stroke-width="0.6"/><circle cx="683.5" cy="468.1" r="2.25" fill="#ffff00" stroke="#000" stroke-width="0.6"/><circle cx="685.9" cy="467.5" r="2.25" fill="#ffff00" stroke="#000" stroke-width="0.6"/><circle cx="687.5" cy="467.3" r="2.25" fill="#ffff00" stroke="#000" stroke-width="0.6"/><circle cx="690.3" cy="467.1" r="2.25" fill="#ffff00" stroke="#000" stroke-width="0.6"/><circle cx="692.7" cy="466.7" r="2.25" fill="#ffff00" stroke="#000" stroke-width="0.6"/><circle cx="694.7" cy="466.0" r="2.25" fill="#ffff00" stroke="#000" stroke-width="0.6"/><circle cx="694.0" cy="464.6" r="2.25" fill="#ffff00" stroke="#000" stroke-width="0.6"/><circle cx="694.1" cy="462.3" r="2.25" fill="#ffff00" stroke="#000" stroke-width="0.6"/><circle cx="696.0" cy="461.0" r="2.25" fill="#ffff00" stroke="#000" stroke-width="0.6"/><circle cx="697.4" cy="459.3" r="2.25" fill="#ffff00" stroke="#000" stroke-width="0.6"/><circle cx="699.4" cy="458.8" r="2.25" fill="#ffff00" stroke="#000" stroke-width="0.6"/><circle cx="701.7" cy="457.9" r="2.25" fill="#ffff00" stroke="#000" stroke-width="0.6"/><circle cx="703.9" cy="459.7" r="2.25" fill="#ffff00" stroke="#000" stroke-width="0.6"/><circle cx="706.0" cy="460.1" r="2.25" fill="#ffff00" stroke="#000" stroke-width="0.6"/><circle cx="707.3" cy="461.4" r="2.25" fill="#ffff00" stroke="#000" stroke-width="0.6"/><circle cx="708.3" cy="463.6" r="2.25" fill="#ffff00" stroke="#000" stroke-width="0.6"/><circle cx="708.9" cy="466.2" r="2.25" fill="#ffff00" stroke="#000" stroke-width="0.6"/><circle cx="709.8" cy="467.7" r="2.25" fill="#ffff00" stroke="#000" stroke-width="0.6"/><circle cx="711.1" cy="469.6" r="2.25" fill="#ffff00" stroke="#000" stroke-width="0.6"/><circle cx="710.8" cy="472.5" r="2.25" fill="#ffff00" stroke="#000" stroke-width="0.6"/><circle cx="712.2" cy="474.1" r="2.25" fill="#ffff00" stroke="#000" stroke-width="0.6"/><circle cx="713.2" cy="474.4" r="2.25" fill="#ffff00" stroke="#000" stroke-width="0.6"/><circle cx="713.4" cy="472.5" r="2.25" fill="#ffff00" stroke="#000" stroke-width="0.6"/><circle cx="713.3" cy="470.6" r="2.25" fill="#ffff00" stroke="#000" stroke-width="0.6"/><circle cx="713.2" cy="468.2" r="2.25" fill="#ffff00" stroke="#000" stroke-width="0.6"/><circle cx="713.2" cy="465.4" r="2.25" fill="#ffff00" stroke="#000" stroke-width="0.6"/><circle cx="714.1" cy="463.1" r="2.25" fill="#ffff00" stroke="#000" stroke-width="0.6"/><circle cx="713.4" cy="461.5" r="2.25" fill="#ffff00" stroke="#000" stroke-width="0.6"/><circle cx="713.6" cy="458.5" r="2.25" fill="#ffff00" stroke="#000" stroke-width="0.6"/><circle cx="714.2" cy="456.9" r="2.25" fill="#ffff00" stroke="#000" stroke-width="0.6"/><circle cx="711.4" cy="458.5" r="2.25" fill="#ffff00" stroke="#000" stroke-width="0.6"/><circle cx="710.2" cy="458.1" r="2.25" fill="#ffff00" stroke="#000" stroke-width="0.6"/><circle cx="708.0" cy="456.0" r="2.25" fill="#ffff00" stroke="#000" stroke-width="0.6"/><circle cx="706.3" cy="454.8" r="2.25" fill="#ffff00" stroke="#000" stroke-width="0.6"/><circle cx="705.0" cy="454.4" r="2.25" fill="#ffff00" stroke="#000" stroke-width="0.6"/><circle cx="703.5" cy="453.1" r="2.25" fill="#ffff00" stroke="#000" stroke-width="0.6"/><circle cx="702.4" cy="451.1" r="2.25" fill="#ffff00" stroke="#000" stroke-width="0.6"/><circle cx="700.9" cy="448.6" r="2.25" fill="#ffff00" stroke="#000" stroke-width="0.6"/><circle cx="699.2" cy="449.8" r="2.25" fill="#ffff00" stroke="#000" stroke-width="0.6"/><circle cx="696.4" cy="450.5" r="2.25" fill="#ffff00" stroke="#000" stroke-width="0.6"/><circle cx="695.2" cy="450.5" r="2.25" fill="#ffff00" stroke="#000" stroke-width="0.6"/><circle cx="693.2" cy="449.4" r="2.25" fill="#ffff00" stroke="#000" stroke-width="0.6"/><circle cx="691.8" cy="447.4" r="2.25" fill="#ffff00" stroke="#000" stroke-width="0.6"/><circle cx="690.9" cy="446.1" r="2.25" fill="#ffff00" stroke="#000" stroke-width="0.6"/><circle cx="688.4" cy="447.1" r="2.25" fill="#ffff00" stroke="#000" stroke-width="0.6"/><circle cx="685.6" cy="448.1" r="2.25" fill="#ffff00" stroke="#000" stroke-width="0.6"/><circle cx="683.7" cy="447.7" r="2.25" fill="#ffff00" stroke="#000" stroke-width="0.6"/><circle cx="681.5" cy="446.9" r="2.25" fill="#ffff00" stroke="#000" stroke-width="0.6"/><circle cx="679.5" cy="447.9" r="2.25" fill="#ffff00" stroke="#000" stroke-width="0.6"/><circle cx="677.8" cy="448.9" r="2.25" fill="#ffff00" stroke="#000" stroke-width="0.6"/><circle cx="676.1" cy="449.0" r="2.25" fill="#ffff00" stroke="#000" stroke-width="0.6"/><circle cx="673.1" cy="448.0" r="2.25" fill="#ffff00" stroke="#000" stroke-width="0.6"/><circle cx="671.9" cy="446.4" r="2.25" fill="#ffff00" stroke="#000" stroke-width="0.6"/><circle cx="671.3" cy="444.7" r="2.25" fill="#ffff00" stroke="#000" stroke-width="0.6"/><circle cx="670.1" cy="442.9" r="2.25" fill="#ffff00" stroke="#000" stroke-width="0.6"/><circle cx="668.0" cy="444.5" r="2.25" fill="#ffff00" stroke="#000" stroke-width="0.6"/><circle cx="665.4" cy="443.4" r="2.25" fill="#ffff00" stroke="#000" stroke-width="0.6"/><circle cx="664.5" cy="442.8" r="2.25" fill="#ffff00" stroke="#000" stroke-width="0.6"/><circle cx="662.7" cy="443.5" r="2.25" fill="#ffff00" stroke="#000" stroke-width="0.6"/><circle cx="659.8" cy="443.9" r="2.25" fill="#ffff00" stroke="#000" stroke-width="0.6"/><circle cx="657.8" cy="444.0" r="2.25" fill="#ffff00" stroke="#000" stroke-width="0.6"/><circle cx="657.0" cy="442.5" r="2.25" fill="#ffff00" stroke="#000" stroke-width="0.6"/><circle cx="656.1" cy="440.6" r="2.25" fill="#ffff00" stroke="#000" stroke-width="0.6"/><circle cx="654.8" cy="440.8" r="2.25" fill="#ffff00" stroke="#000" stroke-width="0.6"/><circle cx="654.1" cy="442.1" r="2.25" fill="#ffff00" stroke="#000" stroke-width="0.6"/><circle cx="651.3" cy="441.7" r="2.25" fill="#ffff00" stroke="#000" stroke-width="0.6"/><circle cx="649.4" cy="440.4" r="2.25" fill="#ffff00" stroke="#000" stroke-width="0.6"/><circle cx="647.2" cy="440.1" r="2.25" fill="#ffff00" stroke="#000" stroke-width="0.6"/><circle cx="645.1" cy="438.4" r="2.25" fill="#ffff00" stroke="#000" stroke-width="0.6"/><circle cx="644.0" cy="437.4" r="2.25" fill="#ffff00" stroke="#000" stroke-width="0.6"/><circle cx="642.0" cy="436.6" r="2.25" fill="#ffff00" stroke="#000" stroke-width="0.6"/><circle cx="641.4" cy="437.6" r="2.25" fill="#ffff00" stroke="#000" stroke-width="0.6"/><circle cx="641.2" cy="439.8" r="2.25" fill="#ffff00" stroke="#000" stroke-width="0.6"/><circle cx="639.0" cy="442.0" r="2.25" fill="#ffff00" stroke="#000" stroke-width="0.6"/><polygon points="638.0,443.4 638.0,456.0 638.6,456.0 638.8,456.0 638.9,456.0 639.1,456.1 639.3,456.1 639.5,456.2 639.7,456.3 639.8,456.4 645.5,461.0 651.0,459.9 651.1,459.9 658.8,458.6 659.0,458.6 659.2,458.6 659.4,458.6 659.6,458.6 664.8,459.9 664.9,460.0 665.1,460.0 665.3,460.1 665.4,460.2 665.6,460.3 665.7,460.5 665.9,460.6 666.0,460.8 666.1,460.9 668.3,465.5 672.7,467.7 677.1,468.8 681.8,467.6 681.9,467.6 682.1,467.6 682.3,467.6 689.7,467.6 692.3,466.9 692.5,466.9 692.7,466.8 692.8,466.8 692.9,466.8 693.0,466.7 693.2,466.7 694.0,466.5 694.4,465.9 694.4,465.8 694.2,465.7 694.1,465.6 693.9,465.4 693.8,465.3 693.7,465.1 693.6,464.9 693.6,464.7 693.5,464.6 693.5,464.4 693.5,464.2 693.5,464.0 693.5,463.8 693.6,463.6 693.6,463.4 693.9,462.8 693.9,462.6 694.0,462.5 694.1,462.3 694.3,462.2 694.4,462.0 694.5,461.9 699.1,458.5 699.3,458.4 699.5,458.3 699.6,458.2 699.8,458.1 700.0,458.1 700.2,458.1 700.4,458.1 700.6,458.1 700.8,458.2 701.0,458.2 701.2,458.3 705.8,460.6 705.9,460.7 706.1,460.8 706.2,460.9 706.4,461.0 706.5,461.2 706.6,461.4 710.0,467.1 710.1,467.2 710.2,467.4 710.3,467.6 710.3,467.7 711.3,472.9 713.4,474.9 713.8,474.8 713.8,457.1 713.5,457.6 713.5,457.7 713.3,457.9 713.2,458.0 713.1,458.2 712.9,458.3 712.7,458.4 712.6,458.5 712.4,458.6 712.2,458.6 712.0,458.6 711.8,458.7 711.6,458.7 711.4,458.6 711.2,458.6 711.0,458.5 710.8,458.4 710.7,458.3 710.5,458.2 710.3,458.1 707.2,455.0 704.3,454.0 704.1,453.9 703.9,453.8 703.8,453.7 703.6,453.6 703.5,453.5 703.3,453.3 703.2,453.2 703.1,453.0 700.9,449.0 700.4,449.4 700.2,449.6 700.1,449.7 699.9,449.8 699.7,449.8 699.5,449.9 695.6,450.9 695.4,451.0 695.2,451.0 695.0,451.0 694.8,451.0 694.7,450.9 694.5,450.9 694.3,450.8 694.1,450.7 693.9,450.6 693.8,450.5 693.6,450.3 693.5,450.2 690.6,446.3 685.6,448.3 685.4,448.3 685.2,448.4 685.0,448.4 684.8,448.4 684.7,448.4 684.5,448.4 684.3,448.3 684.1,448.3 683.9,448.2 682.0,447.2 677.6,448.4 677.4,448.4 677.1,448.4 674.5,448.4 674.3,448.4 674.2,448.4 674.0,448.3 673.8,448.3 673.6,448.2 673.4,448.1 673.3,447.9 673.1,447.8 673.0,447.6 672.9,447.5 672.8,447.3 671.5,444.8 670.2,442.9 668.7,444.1 668.6,444.2 668.4,444.3 668.2,444.4 668.1,444.5 667.9,444.5 667.7,444.6 667.5,444.6 667.3,444.6 667.1,444.5 666.9,444.5 666.7,444.4 666.6,444.3 666.4,444.2 666.2,444.1 666.1,444.0 666.0,443.9 665.8,443.7 665.7,443.6 665.7,443.4 665.6,443.2 665.5,443.0 665.5,442.8 665.5,442.9 665.3,443.0 665.1,443.1 664.9,443.2 664.8,443.2 659.6,444.5 659.4,444.5 659.2,444.6 659.0,444.6 658.8,444.5 658.6,444.5 658.4,444.4 658.2,444.4 658.1,444.3 657.9,444.1 657.7,444.0 657.6,443.9 657.5,443.7 657.4,443.5 657.3,443.3 657.2,443.2 656.1,439.5 654.1,441.4 654.0,441.5 653.8,441.7 653.6,441.8 653.4,441.8 653.3,441.9 653.1,442.0 652.9,442.0 652.7,442.0 652.5,442.0 652.3,441.9 652.1,441.9 648.2,440.6 648.0,440.5 647.9,440.5 647.7,440.4 643.9,437.8 643.7,437.7 643.6,437.6 641.9,435.9 640.5,440.6 640.4,440.8 640.3,440.9 640.2,441.1 640.1,441.3 640.0,441.4 638.0,443.4" fill="#ffff00" stroke="none"/><circle cx="645.7" cy="447.9" r="2.25" fill="none" stroke="#000" stroke-width="0.5" stroke-dasharray="4.0 20" stroke-dashoffset="11.8"/><circle cx="669.1" cy="454.9" r="2.25" fill="none" stroke="#000" stroke-width="0.5" stroke-dasharray="3.8 20" stroke-dashoffset="2.9"/><circle cx="643.6" cy="447.0" r="2.25" fill="none" stroke="#000" stroke-width="0.5" stroke-dasharray="4.8 20" stroke-dashoffset="5.2"/><circle cx="667.7" cy="454.0" r="2.25" fill="none" stroke="#000" stroke-width="0.5" stroke-dasharray="3.2 20" stroke-dashoffset="10.6"/><circle cx="692.8" cy="455.4" r="2.25" fill="none" stroke="#000" stroke-width="0.5" stroke-dasharray="3.4 20" stroke-dashoffset="5.0"/><circle cx="677.9" cy="454.6" r="2.25" fill="none" stroke="#000" stroke-width="0.5" stroke-dasharray="4.4 20" stroke-dashoffset="13.4"/><circle cx="670.4" cy="462.4" r="2.25" fill="none" stroke="#000" stroke-width="0.5" stroke-dasharray="3.8 20" stroke-dashoffset="12.9"/><circle cx="649.1" cy="452.2" r="2.25" fill="none" stroke="#000" stroke-width="0.5" stroke-dasharray="2.3 20" stroke-dashoffset="0.9"/><circle cx="688.8" cy="462.5" r="2.25" fill="none" stroke="#000" stroke-width="0.5" stroke-dasharray="3.6 20" stroke-dashoffset="6.1"/><circle cx="646.5" cy="457.0" r="2.25" fill="none" stroke="#000" stroke-width="0.5" stroke-dasharray="4.3 20" stroke-dashoffset="13.3"/><circle cx="645.3" cy="456.1" r="2.25" fill="none" stroke="#000" stroke-width="0.5" stroke-dasharray="2.8 20" stroke-dashoffset="10.0"/><circle cx="691.3" cy="451.7" r="2.25" fill="none" stroke="#000" stroke-width="0.5" stroke-dasharray="4.3 20" stroke-dashoffset="13.9"/><circle cx="651.7" cy="455.8" r="2.25" fill="none" stroke="#000" stroke-width="0.5" stroke-dasharray="3.2 20" stroke-dashoffset="6.8"/><circle cx="691.4" cy="454.4" r="2.25" fill="none" stroke="#000" stroke-width="0.5" stroke-dasharray="3.0 20" stroke-dashoffset="13.5"/><circle cx="668.5" cy="461.9" r="2.25" fill="none" stroke="#000" stroke-width="0.5" stroke-dasharray="3.9 20" stroke-dashoffset="13.7"/><circle cx="693.3" cy="459.6" r="2.25" fill="none" stroke="#000" stroke-width="0.5" stroke-dasharray="4.7 20" stroke-dashoffset="12.7"/><circle cx="694.4" cy="458.8" r="2.25" fill="none" stroke="#000" stroke-width="0.5" stroke-dasharray="4.4 20" stroke-dashoffset="2.7"/><circle cx="680.9" cy="454.2" r="2.25" fill="none" stroke="#000" stroke-width="0.5" stroke-dasharray="4.9 20" stroke-dashoffset="2.9"/><circle cx="687.9" cy="465.4" r="2.25" fill="none" stroke="#000" stroke-width="0.5" stroke-dasharray="4.0 20" stroke-dashoffset="6.8"/><circle cx="663.4" cy="446.3" r="2.25" fill="none" stroke="#000" stroke-width="0.5" stroke-dasharray="2.1 20" stroke-dashoffset="7.0"/><circle cx="650.3" cy="450.8" r="2.25" fill="none" stroke="#000" stroke-width="0.5" stroke-dasharray="2.9 20" stroke-dashoffset="6.5"/><circle cx="678.8" cy="450.8" r="2.25" fill="none" stroke="#000" stroke-width="0.5" stroke-dasharray="4.6 20" stroke-dashoffset="6.2"/><circle cx="674.7" cy="456.9" r="2.25" fill="none" stroke="#000" stroke-width="0.5" stroke-dasharray="2.2 20" stroke-dashoffset="12.8"/><circle cx="687.5" cy="451.3" r="2.25" fill="none" stroke="#000" stroke-width="0.5" stroke-dasharray="2.3 20" stroke-dashoffset="11.8"/><circle cx="686.0" cy="451.2" r="2.25" fill="none" stroke="#000" stroke-width="0.5" stroke-dasharray="4.6 20" stroke-dashoffset="7.4"/><circle cx="666.7" cy="450.2" r="2.25" fill="none" stroke="#000" stroke-width="0.5" stroke-dasharray="2.2 20" stroke-dashoffset="4.5"/><circle cx="671.5" cy="460.9" r="2.25" fill="none" stroke="#000" stroke-width="0.5" stroke-dasharray="3.0 20" stroke-dashoffset="13.0"/><circle cx="645.5" cy="445.2" r="2.25" fill="none" stroke="#000" stroke-width="0.5" stroke-dasharray="4.0 20" stroke-dashoffset="2.7"/><circle cx="666.3" cy="449.8" r="2.25" fill="none" stroke="#000" stroke-width="0.5" stroke-dasharray="2.7 20" stroke-dashoffset="11.1"/><circle cx="688.8" cy="450.3" r="2.25" fill="none" stroke="#000" stroke-width="0.5" stroke-dasharray="2.5 20" stroke-dashoffset="5.5"/><circle cx="664.6" cy="449.9" r="2.25" fill="none" stroke="#000" stroke-width="0.5" stroke-dasharray="4.6 20" stroke-dashoffset="12.8"/><circle cx="695.7" cy="453.0" r="2.25" fill="none" stroke="#000" stroke-width="0.5" stroke-dasharray="2.7 20" stroke-dashoffset="7.6"/><circle cx="649.4" cy="448.3" r="2.25" fill="none" stroke="#000" stroke-width="0.5" stroke-dasharray="2.3 20" stroke-dashoffset="13.0"/><circle cx="648.8" cy="443.9" r="2.25" fill="none" stroke="#000" stroke-width="0.5" stroke-dasharray="3.3 20" stroke-dashoffset="3.5"/><circle cx="656.9" cy="449.3" r="2.25" fill="none" stroke="#000" stroke-width="0.5" stroke-dasharray="2.7 20" stroke-dashoffset="3.5"/><circle cx="642.7" cy="441.6" r="2.25" fill="none" stroke="#000" stroke-width="0.5" stroke-dasharray="3.3 20" stroke-dashoffset="11.9"/><circle cx="684.2" cy="451.3" r="2.25" fill="none" stroke="#000" stroke-width="0.5" stroke-dasharray="3.2 20" stroke-dashoffset="14.0"/><circle cx="673.9" cy="460.1" r="2.25" fill="none" stroke="#000" stroke-width="0.5" stroke-dasharray="4.5 20" stroke-dashoffset="4.4"/><circle cx="683.3" cy="458.9" r="2.25" fill="none" stroke="#000" stroke-width="0.5" stroke-dasharray="5.0 20" stroke-dashoffset="7.5"/><circle cx="672.4" cy="452.0" r="2.25" fill="none" stroke="#000" stroke-width="0.5" stroke-dasharray="2.1 20" stroke-dashoffset="7.3"/>
<polygon points="715.08,454.16 718.75,454.16 721.49,456.91 724.24,454.62 726.99,456.0 730.66,459.66 732.49,463.33 734.32,466.08 735.24,469.74 737.07,469.74 739.82,470.66 741.66,467.91 743.49,461.49 746.24,461.04 748.07,463.33 749.9,464.7 752.65,463.33 756.32,462.41 760.9,462.41 765.48,464.7 769.15,462.41 770.52,458.29 774.64,457.37 778.31,458.75 781.98,461.04 781.98,465.34 778.31,463.33 774.64,461.49 772.81,463.33 770.98,466.08 766.4,469.74 761.82,466.99 756.32,466.08 752.65,467.91 750.82,472.49 748.07,471.58 746.24,467.91 745.32,472.49 743.49,477.99 737.07,478.91 731.58,477.07 728.83,472.49 725.16,466.99 721.49,463.33 718.75,466.08 717.83,471.58 716.91,475.24 714.16,476.16" fill="#ff8c00" stroke="none"/>
<polyline points="777.0,460.3 781.0,462.6 785.1,465.0 790,466.0 790.05,466.06 792.85,467.67" fill="none" stroke="#ff8c00" stroke-width="3.5" stroke-linejoin="round" stroke-linecap="round"/>
<circle cx="622.5" cy="406.6" r="2.3" fill="#00ff00" stroke="#000" stroke-width="0.9"/>
<circle cx="622.5" cy="409.1" r="2.3" fill="#00ff00" stroke="#000" stroke-width="0.9"/>
<circle cx="612.2" cy="433.6" r="2.3" fill="#00ff00" stroke="#000" stroke-width="0.9"/>
<circle cx="617.3" cy="427.1" r="2.3" fill="#00ff00" stroke="#000" stroke-width="0.9"/>
<circle cx="622.5" cy="424.6" r="2.3" fill="#00ff00" stroke="#000" stroke-width="0.9"/>
<circle cx="625.7" cy="427.1" r="2.3" fill="#00ff00" stroke="#000" stroke-width="0.9"/>
<circle cx="632.1" cy="427.1" r="2.3" fill="#00ff00" stroke="#000" stroke-width="0.9"/>
<circle cx="631.5" cy="442.5" r="2.3" fill="#00ff00" stroke="#000" stroke-width="0.9"/>
<circle cx="640.5" cy="429.1" r="2.3" fill="#ffff00" stroke="#000" stroke-width="0.9"/>
<circle cx="643.7" cy="430.4" r="2.3" fill="#ffff00" stroke="#000" stroke-width="0.9"/>
<circle cx="640.5" cy="433.6" r="2.3" fill="#ffff00" stroke="#000" stroke-width="0.9"/>
<circle cx="655.6" cy="430.4" r="2.3" fill="#ffff00" stroke="#000" stroke-width="0.9"/>
<circle cx="666.2" cy="432.9" r="2.3" fill="#ffff00" stroke="#000" stroke-width="0.9"/>
<circle cx="656.2" cy="437.4" r="2.3" fill="#ffff00" stroke="#000" stroke-width="0.9"/>
<circle cx="793.3" cy="468.1" r="2.4" fill="#ff4500" stroke="#000" stroke-width="0.9"/>
<polyline points="793.3,462.5 797.3,462.5" fill="none" stroke="#000" stroke-width="5.2" stroke-linecap="round"/><polyline points="793.3,462.5 797.3,462.5" fill="none" stroke="#ff4500" stroke-width="3.5" stroke-linecap="round"/>
<polyline points="813.3,463.3 823.7,463.3" fill="none" stroke="#000" stroke-width="4.8" stroke-linecap="round"/><polyline points="813.3,463.3 823.7,463.3" fill="none" stroke="#ff4500" stroke-width="3.2" stroke-linecap="round"/>
<rect x="83.5" y="33.5" width="775.0" height="233.0" fill="none" stroke="#000" stroke-width="1.11" stroke-linejoin="miter"/>
<line x1="157.5" y1="266.5" x2="157.5" y2="271.36" stroke="#000" stroke-width="1.11"/>
<line x1="236.5" y1="266.5" x2="236.5" y2="271.36" stroke="#000" stroke-width="1.11"/>
<line x1="308.5" y1="266.5" x2="308.5" y2="271.36" stroke="#000" stroke-width="1.11"/>
<line x1="387.5" y1="266.5" x2="387.5" y2="271.36" stroke="#000" stroke-width="1.11"/>
<line x1="463.5" y1="266.5" x2="463.5" y2="271.36" stroke="#000" stroke-width="1.11"/>
<line x1="542.5" y1="266.5" x2="542.5" y2="271.36" stroke="#000" stroke-width="1.11"/>
<line x1="619.5" y1="266.5" x2="619.5" y2="271.36" stroke="#000" stroke-width="1.11"/>
<line x1="698.5" y1="266.5" x2="698.5" y2="271.36" stroke="#000" stroke-width="1.11"/>
<line x1="777.5" y1="266.5" x2="777.5" y2="271.36" stroke="#000" stroke-width="1.11"/>
<line x1="853.5" y1="266.5" x2="853.5" y2="271.36" stroke="#000" stroke-width="1.11"/>
<line x1="78.64" y1="33.5" x2="83.5" y2="33.5" stroke="#000" stroke-width="1.11"/>
<line x1="78.64" y1="66.5" x2="83.5" y2="66.5" stroke="#000" stroke-width="1.11"/>
<line x1="78.64" y1="100.5" x2="83.5" y2="100.5" stroke="#000" stroke-width="1.11"/>
<line x1="78.64" y1="133.5" x2="83.5" y2="133.5" stroke="#000" stroke-width="1.11"/>
<line x1="78.64" y1="166.5" x2="83.5" y2="166.5" stroke="#000" stroke-width="1.11"/>
<line x1="78.64" y1="200.5" x2="83.5" y2="200.5" stroke="#000" stroke-width="1.11"/>
<line x1="78.64" y1="233.5" x2="83.5" y2="233.5" stroke="#000" stroke-width="1.11"/>
<line x1="78.64" y1="266.5" x2="83.5" y2="266.5" stroke="#000" stroke-width="1.11"/>
<rect x="83.5" y="383.5" width="775.0" height="234.0" fill="none" stroke="#000" stroke-width="1.11" stroke-linejoin="miter"/>
<line x1="157.5" y1="617.5" x2="157.5" y2="622.36" stroke="#000" stroke-width="1.11"/>
<line x1="236.5" y1="617.5" x2="236.5" y2="622.36" stroke="#000" stroke-width="1.11"/>
<line x1="308.5" y1="617.5" x2="308.5" y2="622.36" stroke="#000" stroke-width="1.11"/>
<line x1="387.5" y1="617.5" x2="387.5" y2="622.36" stroke="#000" stroke-width="1.11"/>
<line x1="463.5" y1="617.5" x2="463.5" y2="622.36" stroke="#000" stroke-width="1.11"/>
<line x1="542.5" y1="617.5" x2="542.5" y2="622.36" stroke="#000" stroke-width="1.11"/>
<line x1="619.5" y1="617.5" x2="619.5" y2="622.36" stroke="#000" stroke-width="1.11"/>
<line x1="698.5" y1="617.5" x2="698.5" y2="622.36" stroke="#000" stroke-width="1.11"/>
<line x1="777.5" y1="617.5" x2="777.5" y2="622.36" stroke="#000" stroke-width="1.11"/>
<line x1="853.5" y1="617.5" x2="853.5" y2="622.36" stroke="#000" stroke-width="1.11"/>
<line x1="78.64" y1="383.5" x2="83.5" y2="383.5" stroke="#000" stroke-width="1.11"/>
<line x1="78.64" y1="422.5" x2="83.5" y2="422.5" stroke="#000" stroke-width="1.11"/>
<line x1="78.64" y1="461.5" x2="83.5" y2="461.5" stroke="#000" stroke-width="1.11"/>
<line x1="78.64" y1="500.5" x2="83.5" y2="500.5" stroke="#000" stroke-width="1.11"/>
<line x1="78.64" y1="539.5" x2="83.5" y2="539.5" stroke="#000" stroke-width="1.11"/>
<line x1="78.64" y1="578.5" x2="83.5" y2="578.5" stroke="#000" stroke-width="1.11"/>
<line x1="78.64" y1="617.5" x2="83.5" y2="617.5" stroke="#000" stroke-width="1.11"/>
<g transform="translate(140.35,24.73)" role="img" aria-label="Sea Level Pressure 300234011549080  01/09/2014 to 10/13/2014"><text x="0.00" y="0" font-size="20.60" textLength="12.70" lengthAdjust="spacingAndGlyphs">S</text><text x="12.70" y="0" font-size="20.60" textLength="12.30" lengthAdjust="spacingAndGlyphs">e</text><text x="25.00" y="0" font-size="20.60" textLength="12.26" lengthAdjust="spacingAndGlyphs">a</text><text x="43.61" y="0" font-size="20.60" textLength="11.14" lengthAdjust="spacingAndGlyphs">L</text><text x="54.38" y="0" font-size="20.60" textLength="12.30" lengthAdjust="spacingAndGlyphs">e</text><text x="66.69" y="0" font-size="20.60" textLength="11.84" lengthAdjust="spacingAndGlyphs">v</text><text x="78.52" y="0" font-size="20.60" textLength="12.30" lengthAdjust="spacingAndGlyphs">e</text><text x="90.83" y="0" font-size="20.60" textLength="5.56" lengthAdjust="spacingAndGlyphs">l</text><text x="102.74" y="0" font-size="20.60" textLength="12.06" lengthAdjust="spacingAndGlyphs">P</text><text x="114.43" y="0" font-size="20.60" textLength="8.22" lengthAdjust="spacingAndGlyphs">r</text><text x="122.15" y="0" font-size="20.60" textLength="12.30" lengthAdjust="spacingAndGlyphs">e</text><text x="134.45" y="0" font-size="20.60" textLength="10.42" lengthAdjust="spacingAndGlyphs">s</text><text x="144.87" y="0" font-size="20.60" textLength="10.42" lengthAdjust="spacingAndGlyphs">s</text><text x="155.29" y="0" font-size="20.60" textLength="12.68" lengthAdjust="spacingAndGlyphs">u</text><text x="167.97" y="0" font-size="20.60" textLength="8.22" lengthAdjust="spacingAndGlyphs">r</text><text x="175.69" y="0" font-size="20.60" textLength="12.30" lengthAdjust="spacingAndGlyphs">e</text><text x="194.35" y="0" font-size="20.60" textLength="12.72" lengthAdjust="spacingAndGlyphs">3</text><text x="207.08" y="0" font-size="20.60" textLength="12.72" lengthAdjust="spacingAndGlyphs">0</text><text x="219.80" y="0" font-size="20.60" textLength="12.72" lengthAdjust="spacingAndGlyphs">0</text><text x="232.53" y="0" font-size="20.60" textLength="12.72" lengthAdjust="spacingAndGlyphs">2</text><text x="245.25" y="0" font-size="20.60" textLength="12.72" lengthAdjust="spacingAndGlyphs">3</text><text x="257.98" y="0" font-size="20.60" textLength="12.72" lengthAdjust="spacingAndGlyphs">4</text><text x="270.70" y="0" font-size="20.60" textLength="12.72" lengthAdjust="spacingAndGlyphs">0</text><text x="283.43" y="0" font-size="20.60" textLength="12.72" lengthAdjust="spacingAndGlyphs">1</text><text x="296.15" y="0" font-size="20.60" textLength="12.72" lengthAdjust="spacingAndGlyphs">1</text><text x="308.88" y="0" font-size="20.60" textLength="12.72" lengthAdjust="spacingAndGlyphs">5</text><text x="321.60" y="0" font-size="20.60" textLength="12.72" lengthAdjust="spacingAndGlyphs">4</text><text x="334.32" y="0" font-size="20.60" textLength="12.72" lengthAdjust="spacingAndGlyphs">9</text><text x="347.05" y="0" font-size="20.60" textLength="12.72" lengthAdjust="spacingAndGlyphs">0</text><text x="359.77" y="0" font-size="20.60" textLength="12.72" lengthAdjust="spacingAndGlyphs">8</text><text x="372.50" y="0" font-size="20.60" textLength="12.72" lengthAdjust="spacingAndGlyphs">0</text><text x="397.94" y="0" font-size="20.60" textLength="12.72" lengthAdjust="spacingAndGlyphs">0</text><text x="410.66" y="0" font-size="20.60" textLength="12.72" lengthAdjust="spacingAndGlyphs">1</text><text x="423.39" y="0" font-size="20.60" textLength="6.74" lengthAdjust="spacingAndGlyphs">/</text><text x="430.12" y="0" font-size="20.60" textLength="12.72" lengthAdjust="spacingAndGlyphs">0</text><text x="442.85" y="0" font-size="20.60" textLength="12.72" lengthAdjust="spacingAndGlyphs">9</text><text x="455.57" y="0" font-size="20.60" textLength="6.74" lengthAdjust="spacingAndGlyphs">/</text><text x="462.31" y="0" font-size="20.60" textLength="12.72" lengthAdjust="spacingAndGlyphs">2</text><text x="475.04" y="0" font-size="20.60" textLength="12.72" lengthAdjust="spacingAndGlyphs">0</text><text x="487.76" y="0" font-size="20.60" textLength="12.72" lengthAdjust="spacingAndGlyphs">1</text><text x="500.49" y="0" font-size="20.60" textLength="12.72" lengthAdjust="spacingAndGlyphs">4</text><text x="519.57" y="0" font-size="20.60" textLength="7.84" lengthAdjust="spacingAndGlyphs">t</text><text x="527.41" y="0" font-size="20.60" textLength="12.24" lengthAdjust="spacingAndGlyphs">o</text><text x="546.00" y="0" font-size="20.60" textLength="12.72" lengthAdjust="spacingAndGlyphs">1</text><text x="558.73" y="0" font-size="20.60" textLength="12.72" lengthAdjust="spacingAndGlyphs">0</text><text x="571.45" y="0" font-size="20.60" textLength="6.74" lengthAdjust="spacingAndGlyphs">/</text><text x="578.19" y="0" font-size="20.60" textLength="12.72" lengthAdjust="spacingAndGlyphs">1</text><text x="590.92" y="0" font-size="20.60" textLength="12.72" lengthAdjust="spacingAndGlyphs">3</text><text x="603.64" y="0" font-size="20.60" textLength="6.74" lengthAdjust="spacingAndGlyphs">/</text><text x="610.38" y="0" font-size="20.60" textLength="12.72" lengthAdjust="spacingAndGlyphs">2</text><text x="623.10" y="0" font-size="20.60" textLength="12.72" lengthAdjust="spacingAndGlyphs">0</text><text x="635.83" y="0" font-size="20.60" textLength="12.72" lengthAdjust="spacingAndGlyphs">1</text><text x="648.55" y="0" font-size="20.60" textLength="12.72" lengthAdjust="spacingAndGlyphs">4</text></g>
<g transform="translate(130.15,375.18)" role="img" aria-label="Surface Temperature 300234011549080  01/09/2014 to 10/13/2014"><text x="0.00" y="0" font-size="20.60" textLength="12.70" lengthAdjust="spacingAndGlyphs">S</text><text x="12.70" y="0" font-size="20.60" textLength="12.68" lengthAdjust="spacingAndGlyphs">u</text><text x="25.37" y="0" font-size="20.60" textLength="8.22" lengthAdjust="spacingAndGlyphs">r</text><text x="33.59" y="0" font-size="20.60" textLength="7.04" lengthAdjust="spacingAndGlyphs">f</text><text x="40.63" y="0" font-size="20.60" textLength="12.26" lengthAdjust="spacingAndGlyphs">a</text><text x="52.89" y="0" font-size="20.60" textLength="11.00" lengthAdjust="spacingAndGlyphs">c</text><text x="63.89" y="0" font-size="20.60" textLength="12.30" lengthAdjust="spacingAndGlyphs">e</text><text x="82.55" y="0" font-size="20.60" textLength="12.22" lengthAdjust="spacingAndGlyphs">T</text><text x="91.39" y="0" font-size="20.60" textLength="12.30" lengthAdjust="spacingAndGlyphs">e</text><text x="103.70" y="0" font-size="20.60" textLength="19.48" lengthAdjust="spacingAndGlyphs">m</text><text x="123.18" y="0" font-size="20.60" textLength="12.70" lengthAdjust="spacingAndGlyphs">p</text><text x="135.87" y="0" font-size="20.60" textLength="12.30" lengthAdjust="spacingAndGlyphs">e</text><text x="148.18" y="0" font-size="20.60" textLength="8.22" lengthAdjust="spacingAndGlyphs">r</text><text x="156.40" y="0" font-size="20.60" textLength="12.26" lengthAdjust="spacingAndGlyphs">a</text><text x="168.66" y="0" font-size="20.60" textLength="7.84" lengthAdjust="spacingAndGlyphs">t</text><text x="176.50" y="0" font-size="20.60" textLength="12.68" lengthAdjust="spacingAndGlyphs">u</text><text x="189.17" y="0" font-size="20.60" textLength="8.22" lengthAdjust="spacingAndGlyphs">r</text><text x="196.90" y="0" font-size="20.60" textLength="12.30" lengthAdjust="spacingAndGlyphs">e</text><text x="215.56" y="0" font-size="20.60" textLength="12.72" lengthAdjust="spacingAndGlyphs">3</text><text x="228.28" y="0" font-size="20.60" textLength="12.72" lengthAdjust="spacingAndGlyphs">0</text><text x="241.01" y="0" font-size="20.60" textLength="12.72" lengthAdjust="spacingAndGlyphs">0</text><text x="253.73" y="0" font-size="20.60" textLength="12.72" lengthAdjust="spacingAndGlyphs">2</text><text x="266.46" y="0" font-size="20.60" textLength="12.72" lengthAdjust="spacingAndGlyphs">3</text><text x="279.18" y="0" font-size="20.60" textLength="12.72" lengthAdjust="spacingAndGlyphs">4</text><text x="291.91" y="0" font-size="20.60" textLength="12.72" lengthAdjust="spacingAndGlyphs">0</text><text x="304.63" y="0" font-size="20.60" textLength="12.72" lengthAdjust="spacingAndGlyphs">1</text><text x="317.36" y="0" font-size="20.60" textLength="12.72" lengthAdjust="spacingAndGlyphs">1</text><text x="330.08" y="0" font-size="20.60" textLength="12.72" lengthAdjust="spacingAndGlyphs">5</text><text x="342.80" y="0" font-size="20.60" textLength="12.72" lengthAdjust="spacingAndGlyphs">4</text><text x="355.53" y="0" font-size="20.60" textLength="12.72" lengthAdjust="spacingAndGlyphs">9</text><text x="368.25" y="0" font-size="20.60" textLength="12.72" lengthAdjust="spacingAndGlyphs">0</text><text x="380.98" y="0" font-size="20.60" textLength="12.72" lengthAdjust="spacingAndGlyphs">8</text><text x="393.70" y="0" font-size="20.60" textLength="12.72" lengthAdjust="spacingAndGlyphs">0</text><text x="419.14" y="0" font-size="20.60" textLength="12.72" lengthAdjust="spacingAndGlyphs">0</text><text x="431.87" y="0" font-size="20.60" textLength="12.72" lengthAdjust="spacingAndGlyphs">1</text><text x="444.59" y="0" font-size="20.60" textLength="6.74" lengthAdjust="spacingAndGlyphs">/</text><text x="451.33" y="0" font-size="20.60" textLength="12.72" lengthAdjust="spacingAndGlyphs">0</text><text x="464.05" y="0" font-size="20.60" textLength="12.72" lengthAdjust="spacingAndGlyphs">9</text><text x="476.78" y="0" font-size="20.60" textLength="6.74" lengthAdjust="spacingAndGlyphs">/</text><text x="483.52" y="0" font-size="20.60" textLength="12.72" lengthAdjust="spacingAndGlyphs">2</text><text x="496.24" y="0" font-size="20.60" textLength="12.72" lengthAdjust="spacingAndGlyphs">0</text><text x="508.97" y="0" font-size="20.60" textLength="12.72" lengthAdjust="spacingAndGlyphs">1</text><text x="521.69" y="0" font-size="20.60" textLength="12.72" lengthAdjust="spacingAndGlyphs">4</text><text x="540.77" y="0" font-size="20.60" textLength="7.84" lengthAdjust="spacingAndGlyphs">t</text><text x="548.62" y="0" font-size="20.60" textLength="12.24" lengthAdjust="spacingAndGlyphs">o</text><text x="567.21" y="0" font-size="20.60" textLength="12.72" lengthAdjust="spacingAndGlyphs">1</text><text x="579.93" y="0" font-size="20.60" textLength="12.72" lengthAdjust="spacingAndGlyphs">0</text><text x="592.66" y="0" font-size="20.60" textLength="6.74" lengthAdjust="spacingAndGlyphs">/</text><text x="599.40" y="0" font-size="20.60" textLength="12.72" lengthAdjust="spacingAndGlyphs">1</text><text x="612.12" y="0" font-size="20.60" textLength="12.72" lengthAdjust="spacingAndGlyphs">3</text><text x="624.85" y="0" font-size="20.60" textLength="6.74" lengthAdjust="spacingAndGlyphs">/</text><text x="631.58" y="0" font-size="20.60" textLength="12.72" lengthAdjust="spacingAndGlyphs">2</text><text x="644.31" y="0" font-size="20.60" textLength="12.72" lengthAdjust="spacingAndGlyphs">0</text><text x="657.03" y="0" font-size="20.60" textLength="12.72" lengthAdjust="spacingAndGlyphs">1</text><text x="669.76" y="0" font-size="20.60" textLength="12.72" lengthAdjust="spacingAndGlyphs">4</text></g>
<g transform="translate(20.58,229.11) rotate(-90)" role="img" aria-label="Sea Level Pressure"><text x="0.00" y="0" font-size="17.17" textLength="10.55" lengthAdjust="spacingAndGlyphs">S</text><text x="10.55" y="0" font-size="17.17" textLength="10.23" lengthAdjust="spacingAndGlyphs">e</text><text x="20.78" y="0" font-size="17.17" textLength="10.19" lengthAdjust="spacingAndGlyphs">a</text><text x="36.25" y="0" font-size="17.17" textLength="9.26" lengthAdjust="spacingAndGlyphs">L</text><text x="45.27" y="0" font-size="17.17" textLength="10.23" lengthAdjust="spacingAndGlyphs">e</text><text x="55.49" y="0" font-size="17.17" textLength="9.84" lengthAdjust="spacingAndGlyphs">v</text><text x="65.33" y="0" font-size="17.17" textLength="10.23" lengthAdjust="spacingAndGlyphs">e</text><text x="75.56" y="0" font-size="17.17" textLength="4.62" lengthAdjust="spacingAndGlyphs">l</text><text x="85.46" y="0" font-size="17.17" textLength="10.03" lengthAdjust="spacingAndGlyphs">P</text><text x="95.24" y="0" font-size="17.17" textLength="6.84" lengthAdjust="spacingAndGlyphs">r</text><text x="101.70" y="0" font-size="17.17" textLength="10.23" lengthAdjust="spacingAndGlyphs">e</text><text x="111.93" y="0" font-size="17.17" textLength="8.66" lengthAdjust="spacingAndGlyphs">s</text><text x="120.59" y="0" font-size="17.17" textLength="8.66" lengthAdjust="spacingAndGlyphs">s</text><text x="129.25" y="0" font-size="17.17" textLength="10.54" lengthAdjust="spacingAndGlyphs">u</text><text x="139.79" y="0" font-size="17.17" textLength="6.84" lengthAdjust="spacingAndGlyphs">r</text><text x="146.25" y="0" font-size="17.17" textLength="10.23" lengthAdjust="spacingAndGlyphs">e</text></g>
<g transform="translate(27.98,588.16) rotate(-90)" role="img" aria-label="Surface Temperature"><text x="0.00" y="0" font-size="17.17" textLength="10.55" lengthAdjust="spacingAndGlyphs">S</text><text x="10.55" y="0" font-size="17.17" textLength="10.54" lengthAdjust="spacingAndGlyphs">u</text><text x="21.09" y="0" font-size="17.17" textLength="6.84" lengthAdjust="spacingAndGlyphs">r</text><text x="27.92" y="0" font-size="17.17" textLength="5.85" lengthAdjust="spacingAndGlyphs">f</text><text x="33.78" y="0" font-size="17.17" textLength="10.19" lengthAdjust="spacingAndGlyphs">a</text><text x="43.97" y="0" font-size="17.17" textLength="9.14" lengthAdjust="spacingAndGlyphs">c</text><text x="53.11" y="0" font-size="17.17" textLength="10.23" lengthAdjust="spacingAndGlyphs">e</text><text x="68.62" y="0" font-size="17.17" textLength="10.16" lengthAdjust="spacingAndGlyphs">T</text><text x="75.90" y="0" font-size="17.17" textLength="10.23" lengthAdjust="spacingAndGlyphs">e</text><text x="86.13" y="0" font-size="17.17" textLength="16.19" lengthAdjust="spacingAndGlyphs">m</text><text x="102.32" y="0" font-size="17.17" textLength="10.55" lengthAdjust="spacingAndGlyphs">p</text><text x="112.87" y="0" font-size="17.17" textLength="10.23" lengthAdjust="spacingAndGlyphs">e</text><text x="123.10" y="0" font-size="17.17" textLength="6.84" lengthAdjust="spacingAndGlyphs">r</text><text x="129.94" y="0" font-size="17.17" textLength="10.19" lengthAdjust="spacingAndGlyphs">a</text><text x="140.13" y="0" font-size="17.17" textLength="6.52" lengthAdjust="spacingAndGlyphs">t</text><text x="146.64" y="0" font-size="17.17" textLength="10.54" lengthAdjust="spacingAndGlyphs">u</text><text x="157.18" y="0" font-size="17.17" textLength="6.84" lengthAdjust="spacingAndGlyphs">r</text><text x="163.64" y="0" font-size="17.17" textLength="10.23" lengthAdjust="spacingAndGlyphs">e</text></g>
<g transform="translate(30.18,39.00)" role="img" aria-label="1080"><text x="0.00" y="0" font-size="17.17" textLength="10.58" lengthAdjust="spacingAndGlyphs">1</text><text x="10.58" y="0" font-size="17.17" textLength="10.58" lengthAdjust="spacingAndGlyphs">0</text><text x="21.15" y="0" font-size="17.17" textLength="10.58" lengthAdjust="spacingAndGlyphs">8</text><text x="31.73" y="0" font-size="17.17" textLength="10.58" lengthAdjust="spacingAndGlyphs">0</text></g>
<g transform="translate(30.17,73.00)" role="img" aria-label="1060"><text x="0.00" y="0" font-size="17.17" textLength="10.58" lengthAdjust="spacingAndGlyphs">1</text><text x="10.58" y="0" font-size="17.17" textLength="10.58" lengthAdjust="spacingAndGlyphs">0</text><text x="21.15" y="0" font-size="17.17" textLength="10.58" lengthAdjust="spacingAndGlyphs">6</text><text x="31.73" y="0" font-size="17.17" textLength="10.58" lengthAdjust="spacingAndGlyphs">0</text></g>
<g transform="translate(30.31,106.00)" role="img" aria-label="1040"><text x="0.00" y="0" font-size="17.17" textLength="10.58" lengthAdjust="spacingAndGlyphs">1</text><text x="10.58" y="0" font-size="17.17" textLength="10.58" lengthAdjust="spacingAndGlyphs">0</text><text x="21.15" y="0" font-size="17.17" textLength="10.58" lengthAdjust="spacingAndGlyphs">4</text><text x="31.73" y="0" font-size="17.17" textLength="10.58" lengthAdjust="spacingAndGlyphs">0</text></g>
<g transform="translate(30.17,139.00)" role="img" aria-label="1020"><text x="0.00" y="0" font-size="17.17" textLength="10.58" lengthAdjust="spacingAndGlyphs">1</text><text x="10.58" y="0" font-size="17.17" textLength="10.58" lengthAdjust="spacingAndGlyphs">0</text><text x="21.15" y="0" font-size="17.17" textLength="10.58" lengthAdjust="spacingAndGlyphs">2</text><text x="31.73" y="0" font-size="17.17" textLength="10.58" lengthAdjust="spacingAndGlyphs">0</text></g>
<g transform="translate(30.18,172.00)" role="img" aria-label="1000"><text x="0.00" y="0" font-size="17.17" textLength="10.58" lengthAdjust="spacingAndGlyphs">1</text><text x="10.58" y="0" font-size="17.17" textLength="10.58" lengthAdjust="spacingAndGlyphs">0</text><text x="21.15" y="0" font-size="17.17" textLength="10.58" lengthAdjust="spacingAndGlyphs">0</text><text x="31.73" y="0" font-size="17.17" textLength="10.58" lengthAdjust="spacingAndGlyphs">0</text></g>
<g transform="translate(40.80,206.00)" role="img" aria-label="980"><text x="0.00" y="0" font-size="17.17" textLength="10.58" lengthAdjust="spacingAndGlyphs">9</text><text x="10.58" y="0" font-size="17.17" textLength="10.58" lengthAdjust="spacingAndGlyphs">8</text><text x="21.15" y="0" font-size="17.17" textLength="10.58" lengthAdjust="spacingAndGlyphs">0</text></g>
<g transform="translate(40.59,239.00)" role="img" aria-label="960"><text x="0.00" y="0" font-size="17.17" textLength="10.58" lengthAdjust="spacingAndGlyphs">9</text><text x="10.58" y="0" font-size="17.17" textLength="10.58" lengthAdjust="spacingAndGlyphs">6</text><text x="21.15" y="0" font-size="17.17" textLength="10.58" lengthAdjust="spacingAndGlyphs">0</text></g>
<g transform="translate(40.75,272.00)" role="img" aria-label="940"><text x="0.00" y="0" font-size="17.17" textLength="10.58" lengthAdjust="spacingAndGlyphs">9</text><text x="10.58" y="0" font-size="17.17" textLength="10.58" lengthAdjust="spacingAndGlyphs">4</text><text x="21.15" y="0" font-size="17.17" textLength="10.58" lengthAdjust="spacingAndGlyphs">0</text></g>
<g transform="translate(51.32,390.00)" role="img" aria-label="20"><text x="0.00" y="0" font-size="17.17" textLength="10.58" lengthAdjust="spacingAndGlyphs">2</text><text x="10.58" y="0" font-size="17.17" textLength="10.58" lengthAdjust="spacingAndGlyphs">0</text></g>
<g transform="translate(51.23,429.00)" role="img" aria-label="10"><text x="0.00" y="0" font-size="17.17" textLength="10.58" lengthAdjust="spacingAndGlyphs">1</text><text x="10.58" y="0" font-size="17.17" textLength="10.58" lengthAdjust="spacingAndGlyphs">0</text></g>
<g transform="translate(61.66,468.00)" role="img" aria-label="0"><text x="0.00" y="0" font-size="17.17" textLength="10.58" lengthAdjust="spacingAndGlyphs">0</text></g>
<g transform="translate(37.37,507.00)" role="img" aria-label="−10"><text x="0.00" y="0" font-size="17.17" textLength="13.93" lengthAdjust="spacingAndGlyphs">−</text><text x="13.93" y="0" font-size="17.17" textLength="10.58" lengthAdjust="spacingAndGlyphs">1</text><text x="24.51" y="0" font-size="17.17" textLength="10.58" lengthAdjust="spacingAndGlyphs">0</text></g>
<g transform="translate(37.23,545.00)" role="img" aria-label="−20"><text x="0.00" y="0" font-size="17.17" textLength="13.93" lengthAdjust="spacingAndGlyphs">−</text><text x="13.93" y="0" font-size="17.17" textLength="10.58" lengthAdjust="spacingAndGlyphs">2</text><text x="24.51" y="0" font-size="17.17" textLength="10.58" lengthAdjust="spacingAndGlyphs">0</text></g>
<g transform="translate(37.12,584.00)" role="img" aria-label="−30"><text x="0.00" y="0" font-size="17.17" textLength="13.93" lengthAdjust="spacingAndGlyphs">−</text><text x="13.93" y="0" font-size="17.17" textLength="10.58" lengthAdjust="spacingAndGlyphs">3</text><text x="24.51" y="0" font-size="17.17" textLength="10.58" lengthAdjust="spacingAndGlyphs">0</text></g>
<g transform="translate(37.37,623.00)" role="img" aria-label="−40"><text x="0.00" y="0" font-size="17.17" textLength="13.93" lengthAdjust="spacingAndGlyphs">−</text><text x="13.93" y="0" font-size="17.17" textLength="10.58" lengthAdjust="spacingAndGlyphs">4</text><text x="24.51" y="0" font-size="17.17" textLength="10.58" lengthAdjust="spacingAndGlyphs">0</text></g>
<g transform="translate(158.62,340.65) rotate(-85)" role="img" aria-label="01/25/14"><text x="0.00" y="0" font-size="13.33" textLength="8.83" lengthAdjust="spacingAndGlyphs">0</text><text x="8.83" y="0" font-size="13.33" textLength="8.83" lengthAdjust="spacingAndGlyphs">1</text><text x="17.66" y="0" font-size="13.33" textLength="4.67" lengthAdjust="spacingAndGlyphs">/</text><text x="22.33" y="0" font-size="13.33" textLength="8.83" lengthAdjust="spacingAndGlyphs">2</text><text x="31.16" y="0" font-size="13.33" textLength="8.83" lengthAdjust="spacingAndGlyphs">5</text><text x="39.99" y="0" font-size="13.33" textLength="4.67" lengthAdjust="spacingAndGlyphs">/</text><text x="44.66" y="0" font-size="13.33" textLength="8.83" lengthAdjust="spacingAndGlyphs">1</text><text x="53.49" y="0" font-size="13.33" textLength="8.83" lengthAdjust="spacingAndGlyphs">4</text></g>
<g transform="translate(158.62,691.65) rotate(-85)" role="img" aria-label="01/25/14"><text x="0.00" y="0" font-size="13.33" textLength="8.83" lengthAdjust="spacingAndGlyphs">0</text><text x="8.83" y="0" font-size="13.33" textLength="8.83" lengthAdjust="spacingAndGlyphs">1</text><text x="17.66" y="0" font-size="13.33" textLength="4.67" lengthAdjust="spacingAndGlyphs">/</text><text x="22.33" y="0" font-size="13.33" textLength="8.83" lengthAdjust="spacingAndGlyphs">2</text><text x="31.16" y="0" font-size="13.33" textLength="8.83" lengthAdjust="spacingAndGlyphs">5</text><text x="39.99" y="0" font-size="13.33" textLength="4.67" lengthAdjust="spacingAndGlyphs">/</text><text x="44.66" y="0" font-size="13.33" textLength="8.83" lengthAdjust="spacingAndGlyphs">1</text><text x="53.49" y="0" font-size="13.33" textLength="8.83" lengthAdjust="spacingAndGlyphs">4</text></g>
<g transform="translate(237.39,340.72) rotate(-85)" role="img" aria-label="02/25/14"><text x="0.00" y="0" font-size="13.33" textLength="8.83" lengthAdjust="spacingAndGlyphs">0</text><text x="8.83" y="0" font-size="13.33" textLength="8.83" lengthAdjust="spacingAndGlyphs">2</text><text x="17.66" y="0" font-size="13.33" textLength="4.67" lengthAdjust="spacingAndGlyphs">/</text><text x="22.33" y="0" font-size="13.33" textLength="8.83" lengthAdjust="spacingAndGlyphs">2</text><text x="31.16" y="0" font-size="13.33" textLength="8.83" lengthAdjust="spacingAndGlyphs">5</text><text x="39.99" y="0" font-size="13.33" textLength="4.67" lengthAdjust="spacingAndGlyphs">/</text><text x="44.66" y="0" font-size="13.33" textLength="8.83" lengthAdjust="spacingAndGlyphs">1</text><text x="53.49" y="0" font-size="13.33" textLength="8.83" lengthAdjust="spacingAndGlyphs">4</text></g>
<g transform="translate(237.39,691.72) rotate(-85)" role="img" aria-label="02/25/14"><text x="0.00" y="0" font-size="13.33" textLength="8.83" lengthAdjust="spacingAndGlyphs">0</text><text x="8.83" y="0" font-size="13.33" textLength="8.83" lengthAdjust="spacingAndGlyphs">2</text><text x="17.66" y="0" font-size="13.33" textLength="4.67" lengthAdjust="spacingAndGlyphs">/</text><text x="22.33" y="0" font-size="13.33" textLength="8.83" lengthAdjust="spacingAndGlyphs">2</text><text x="31.16" y="0" font-size="13.33" textLength="8.83" lengthAdjust="spacingAndGlyphs">5</text><text x="39.99" y="0" font-size="13.33" textLength="4.67" lengthAdjust="spacingAndGlyphs">/</text><text x="44.66" y="0" font-size="13.33" textLength="8.83" lengthAdjust="spacingAndGlyphs">1</text><text x="53.49" y="0" font-size="13.33" textLength="8.83" lengthAdjust="spacingAndGlyphs">4</text></g>
<g transform="translate(309.53,340.80) rotate(-85)" role="img" aria-label="03/25/14"><text x="0.00" y="0" font-size="13.33" textLength="8.83" lengthAdjust="spacingAndGlyphs">0</text><text x="8.83" y="0" font-size="13.33" textLength="8.83" lengthAdjust="spacingAndGlyphs">3</text><text x="17.66" y="0" font-size="13.33" textLength="4.67" lengthAdjust="spacingAndGlyphs">/</text><text x="22.33" y="0" font-size="13.33" textLength="8.83" lengthAdjust="spacingAndGlyphs">2</text><text x="31.16" y="0" font-size="13.33" textLength="8.83" lengthAdjust="spacingAndGlyphs">5</text><text x="39.99" y="0" font-size="13.33" textLength="4.67" lengthAdjust="spacingAndGlyphs">/</text><text x="44.66" y="0" font-size="13.33" textLength="8.83" lengthAdjust="spacingAndGlyphs">1</text><text x="53.49" y="0" font-size="13.33" textLength="8.83" lengthAdjust="spacingAndGlyphs">4</text></g>
<g transform="translate(309.53,691.80) rotate(-85)" role="img" aria-label="03/25/14"><text x="0.00" y="0" font-size="13.33" textLength="8.83" lengthAdjust="spacingAndGlyphs">0</text><text x="8.83" y="0" font-size="13.33" textLength="8.83" lengthAdjust="spacingAndGlyphs">3</text><text x="17.66" y="0" font-size="13.33" textLength="4.67" lengthAdjust="spacingAndGlyphs">/</text><text x="22.33" y="0" font-size="13.33" textLength="8.83" lengthAdjust="spacingAndGlyphs">2</text><text x="31.16" y="0" font-size="13.33" textLength="8.83" lengthAdjust="spacingAndGlyphs">5</text><text x="39.99" y="0" font-size="13.33" textLength="4.67" lengthAdjust="spacingAndGlyphs">/</text><text x="44.66" y="0" font-size="13.33" textLength="8.83" lengthAdjust="spacingAndGlyphs">1</text><text x="53.49" y="0" font-size="13.33" textLength="8.83" lengthAdjust="spacingAndGlyphs">4</text></g>
<g transform="translate(388.27,340.90) rotate(-85)" role="img" aria-label="04/25/14"><text x="0.00" y="0" font-size="13.33" textLength="8.83" lengthAdjust="spacingAndGlyphs">0</text><text x="8.83" y="0" font-size="13.33" textLength="8.83" lengthAdjust="spacingAndGlyphs">4</text><text x="17.66" y="0" font-size="13.33" textLength="4.67" lengthAdjust="spacingAndGlyphs">/</text><text x="22.33" y="0" font-size="13.33" textLength="8.83" lengthAdjust="spacingAndGlyphs">2</text><text x="31.16" y="0" font-size="13.33" textLength="8.83" lengthAdjust="spacingAndGlyphs">5</text><text x="39.99" y="0" font-size="13.33" textLength="4.67" lengthAdjust="spacingAndGlyphs">/</text><text x="44.66" y="0" font-size="13.33" textLength="8.83" lengthAdjust="spacingAndGlyphs">1</text><text x="53.49" y="0" font-size="13.33" textLength="8.83" lengthAdjust="spacingAndGlyphs">4</text></g>
<g transform="translate(388.27,691.90) rotate(-85)" role="img" aria-label="04/25/14"><text x="0.00" y="0" font-size="13.33" textLength="8.83" lengthAdjust="spacingAndGlyphs">0</text><text x="8.83" y="0" font-size="13.33" textLength="8.83" lengthAdjust="spacingAndGlyphs">4</text><text x="17.66" y="0" font-size="13.33" textLength="4.67" lengthAdjust="spacingAndGlyphs">/</text><text x="22.33" y="0" font-size="13.33" textLength="8.83" lengthAdjust="spacingAndGlyphs">2</text><text x="31.16" y="0" font-size="13.33" textLength="8.83" lengthAdjust="spacingAndGlyphs">5</text><text x="39.99" y="0" font-size="13.33" textLength="4.67" lengthAdjust="spacingAndGlyphs">/</text><text x="44.66" y="0" font-size="13.33" textLength="8.83" lengthAdjust="spacingAndGlyphs">1</text><text x="53.49" y="0" font-size="13.33" textLength="8.83" lengthAdjust="spacingAndGlyphs">4</text></g>
<g transform="translate(464.37,340.69) rotate(-85)" role="img" aria-label="05/25/14"><text x="0.00" y="0" font-size="13.33" textLength="8.83" lengthAdjust="spacingAndGlyphs">0</text><text x="8.83" y="0" font-size="13.33" textLength="8.83" lengthAdjust="spacingAndGlyphs">5</text><text x="17.66" y="0" font-size="13.33" textLength="4.67" lengthAdjust="spacingAndGlyphs">/</text><text x="22.33" y="0" font-size="13.33" textLength="8.83" lengthAdjust="spacingAndGlyphs">2</text><text x="31.16" y="0" font-size="13.33" textLength="8.83" lengthAdjust="spacingAndGlyphs">5</text><text x="39.99" y="0" font-size="13.33" textLength="4.67" lengthAdjust="spacingAndGlyphs">/</text><text x="44.66" y="0" font-size="13.33" textLength="8.83" lengthAdjust="spacingAndGlyphs">1</text><text x="53.49" y="0" font-size="13.33" textLength="8.83" lengthAdjust="spacingAndGlyphs">4</text></g>
<g transform="translate(464.37,691.69) rotate(-85)" role="img" aria-label="05/25/14"><text x="0.00" y="0" font-size="13.33" textLength="8.83" lengthAdjust="spacingAndGlyphs">0</text><text x="8.83" y="0" font-size="13.33" textLength="8.83" lengthAdjust="spacingAndGlyphs">5</text><text x="17.66" y="0" font-size="13.33" textLength="4.67" lengthAdjust="spacingAndGlyphs">/</text><text x="22.33" y="0" font-size="13.33" textLength="8.83" lengthAdjust="spacingAndGlyphs">2</text><text x="31.16" y="0" font-size="13.33" textLength="8.83" lengthAdjust="spacingAndGlyphs">5</text><text x="39.99" y="0" font-size="13.33" textLength="4.67" lengthAdjust="spacingAndGlyphs">/</text><text x="44.66" y="0" font-size="13.33" textLength="8.83" lengthAdjust="spacingAndGlyphs">1</text><text x="53.49" y="0" font-size="13.33" textLength="8.83" lengthAdjust="spacingAndGlyphs">4</text></g>
<g transform="translate(543.55,340.66) rotate(-85)" role="img" aria-label="06/25/14"><text x="0.00" y="0" font-size="13.33" textLength="8.83" lengthAdjust="spacingAndGlyphs">0</text><text x="8.83" y="0" font-size="13.33" textLength="8.83" lengthAdjust="spacingAndGlyphs">6</text><text x="17.66" y="0" font-size="13.33" textLength="4.67" lengthAdjust="spacingAndGlyphs">/</text><text x="22.33" y="0" font-size="13.33" textLength="8.83" lengthAdjust="spacingAndGlyphs">2</text><text x="31.16" y="0" font-size="13.33" textLength="8.83" lengthAdjust="spacingAndGlyphs">5</text><text x="39.99" y="0" font-size="13.33" textLength="4.67" lengthAdjust="spacingAndGlyphs">/</text><text x="44.66" y="0" font-size="13.33" textLength="8.83" lengthAdjust="spacingAndGlyphs">1</text><text x="53.49" y="0" font-size="13.33" textLength="8.83" lengthAdjust="spacingAndGlyphs">4</text></g>
<g transform="translate(543.55,691.66) rotate(-85)" role="img" aria-label="06/25/14"><text x="0.00" y="0" font-size="13.33" textLength="8.83" lengthAdjust="spacingAndGlyphs">0</text><text x="8.83" y="0" font-size="13.33" textLength="8.83" lengthAdjust="spacingAndGlyphs">6</text><text x="17.66" y="0" font-size="13.33" textLength="4.67" lengthAdjust="spacingAndGlyphs">/</text><text x="22.33" y="0" font-size="13.33" textLength="8.83" lengthAdjust="spacingAndGlyphs">2</text><text x="31.16" y="0" font-size="13.33" textLength="8.83" lengthAdjust="spacingAndGlyphs">5</text><text x="39.99" y="0" font-size="13.33" textLength="4.67" lengthAdjust="spacingAndGlyphs">/</text><text x="44.66" y="0" font-size="13.33" textLength="8.83" lengthAdjust="spacingAndGlyphs">1</text><text x="53.49" y="0" font-size="13.33" textLength="8.83" lengthAdjust="spacingAndGlyphs">4</text></g>
<g transform="translate(620.55,340.96) rotate(-85)" role="img" aria-label="07/25/14"><text x="0.00" y="0" font-size="13.33" textLength="8.83" lengthAdjust="spacingAndGlyphs">0</text><text x="8.83" y="0" font-size="13.33" textLength="8.83" lengthAdjust="spacingAndGlyphs">7</text><text x="17.66" y="0" font-size="13.33" textLength="4.67" lengthAdjust="spacingAndGlyphs">/</text><text x="22.33" y="0" font-size="13.33" textLength="8.83" lengthAdjust="spacingAndGlyphs">2</text><text x="31.16" y="0" font-size="13.33" textLength="8.83" lengthAdjust="spacingAndGlyphs">5</text><text x="39.99" y="0" font-size="13.33" textLength="4.67" lengthAdjust="spacingAndGlyphs">/</text><text x="44.66" y="0" font-size="13.33" textLength="8.83" lengthAdjust="spacingAndGlyphs">1</text><text x="53.49" y="0" font-size="13.33" textLength="8.83" lengthAdjust="spacingAndGlyphs">4</text></g>
<g transform="translate(620.55,691.96) rotate(-85)" role="img" aria-label="07/25/14"><text x="0.00" y="0" font-size="13.33" textLength="8.83" lengthAdjust="spacingAndGlyphs">0</text><text x="8.83" y="0" font-size="13.33" textLength="8.83" lengthAdjust="spacingAndGlyphs">7</text><text x="17.66" y="0" font-size="13.33" textLength="4.67" lengthAdjust="spacingAndGlyphs">/</text><text x="22.33" y="0" font-size="13.33" textLength="8.83" lengthAdjust="spacingAndGlyphs">2</text><text x="31.16" y="0" font-size="13.33" textLength="8.83" lengthAdjust="spacingAndGlyphs">5</text><text x="39.99" y="0" font-size="13.33" textLength="4.67" lengthAdjust="spacingAndGlyphs">/</text><text x="44.66" y="0" font-size="13.33" textLength="8.83" lengthAdjust="spacingAndGlyphs">1</text><text x="53.49" y="0" font-size="13.33" textLength="8.83" lengthAdjust="spacingAndGlyphs">4</text></g>
<g transform="translate(699.61,340.72) rotate(-85)" role="img" aria-label="08/25/14"><text x="0.00" y="0" font-size="13.33" textLength="8.83" lengthAdjust="spacingAndGlyphs">0</text><text x="8.83" y="0" font-size="13.33" textLength="8.83" lengthAdjust="spacingAndGlyphs">8</text><text x="17.66" y="0" font-size="13.33" textLength="4.67" lengthAdjust="spacingAndGlyphs">/</text><text x="22.33" y="0" font-size="13.33" textLength="8.83" lengthAdjust="spacingAndGlyphs">2</text><text x="31.16" y="0" font-size="13.33" textLength="8.83" lengthAdjust="spacingAndGlyphs">5</text><text x="39.99" y="0" font-size="13.33" textLength="4.67" lengthAdjust="spacingAndGlyphs">/</text><text x="44.66" y="0" font-size="13.33" textLength="8.83" lengthAdjust="spacingAndGlyphs">1</text><text x="53.49" y="0" font-size="13.33" textLength="8.83" lengthAdjust="spacingAndGlyphs">4</text></g>
<g transform="translate(699.61,691.72) rotate(-85)" role="img" aria-label="08/25/14"><text x="0.00" y="0" font-size="13.33" textLength="8.83" lengthAdjust="spacingAndGlyphs">0</text><text x="8.83" y="0" font-size="13.33" textLength="8.83" lengthAdjust="spacingAndGlyphs">8</text><text x="17.66" y="0" font-size="13.33" textLength="4.67" lengthAdjust="spacingAndGlyphs">/</text><text x="22.33" y="0" font-size="13.33" textLength="8.83" lengthAdjust="spacingAndGlyphs">2</text><text x="31.16" y="0" font-size="13.33" textLength="8.83" lengthAdjust="spacingAndGlyphs">5</text><text x="39.99" y="0" font-size="13.33" textLength="4.67" lengthAdjust="spacingAndGlyphs">/</text><text x="44.66" y="0" font-size="13.33" textLength="8.83" lengthAdjust="spacingAndGlyphs">1</text><text x="53.49" y="0" font-size="13.33" textLength="8.83" lengthAdjust="spacingAndGlyphs">4</text></g>
<g transform="translate(778.36,340.65) rotate(-85)" role="img" aria-label="09/25/14"><text x="0.00" y="0" font-size="13.33" textLength="8.83" lengthAdjust="spacingAndGlyphs">0</text><text x="8.83" y="0" font-size="13.33" textLength="8.83" lengthAdjust="spacingAndGlyphs">9</text><text x="17.66" y="0" font-size="13.33" textLength="4.67" lengthAdjust="spacingAndGlyphs">/</text><text x="22.33" y="0" font-size="13.33" textLength="8.83" lengthAdjust="spacingAndGlyphs">2</text><text x="31.16" y="0" font-size="13.33" textLength="8.83" lengthAdjust="spacingAndGlyphs">5</text><text x="39.99" y="0" font-size="13.33" textLength="4.67" lengthAdjust="spacingAndGlyphs">/</text><text x="44.66" y="0" font-size="13.33" textLength="8.83" lengthAdjust="spacingAndGlyphs">1</text><text x="53.49" y="0" font-size="13.33" textLength="8.83" lengthAdjust="spacingAndGlyphs">4</text></g>
<g transform="translate(778.36,691.65) rotate(-85)" role="img" aria-label="09/25/14"><text x="0.00" y="0" font-size="13.33" textLength="8.83" lengthAdjust="spacingAndGlyphs">0</text><text x="8.83" y="0" font-size="13.33" textLength="8.83" lengthAdjust="spacingAndGlyphs">9</text><text x="17.66" y="0" font-size="13.33" textLength="4.67" lengthAdjust="spacingAndGlyphs">/</text><text x="22.33" y="0" font-size="13.33" textLength="8.83" lengthAdjust="spacingAndGlyphs">2</text><text x="31.16" y="0" font-size="13.33" textLength="8.83" lengthAdjust="spacingAndGlyphs">5</text><text x="39.99" y="0" font-size="13.33" textLength="4.67" lengthAdjust="spacingAndGlyphs">/</text><text x="44.66" y="0" font-size="13.33" textLength="8.83" lengthAdjust="spacingAndGlyphs">1</text><text x="53.49" y="0" font-size="13.33" textLength="8.83" lengthAdjust="spacingAndGlyphs">4</text></g>
<g transform="translate(855.25,341.72) rotate(-85)" role="img" aria-label="10/25/14"><text x="0.00" y="0" font-size="13.33" textLength="8.83" lengthAdjust="spacingAndGlyphs">1</text><text x="8.83" y="0" font-size="13.33" textLength="8.83" lengthAdjust="spacingAndGlyphs">0</text><text x="17.66" y="0" font-size="13.33" textLength="4.67" lengthAdjust="spacingAndGlyphs">/</text><text x="22.33" y="0" font-size="13.33" textLength="8.83" lengthAdjust="spacingAndGlyphs">2</text><text x="31.16" y="0" font-size="13.33" textLength="8.83" lengthAdjust="spacingAndGlyphs">5</text><text x="39.99" y="0" font-size="13.33" textLength="4.67" lengthAdjust="spacingAndGlyphs">/</text><text x="44.66" y="0" font-size="13.33" textLength="8.83" lengthAdjust="spacingAndGlyphs">1</text><text x="53.49" y="0" font-size="13.33" textLength="8.83" lengthAdjust="spacingAndGlyphs">4</text></g>
<g transform="translate(855.25,692.72) rotate(-85)" role="img" aria-label="10/25/14"><text x="0.00" y="0" font-size="13.33" textLength="8.83" lengthAdjust="spacingAndGlyphs">1</text><text x="8.83" y="0" font-size="13.33" textLength="8.83" lengthAdjust="spacingAndGlyphs">0</text><text x="17.66" y="0" font-size="13.33" textLength="4.67" lengthAdjust="spacingAndGlyphs">/</text><text x="22.33" y="0" font-size="13.33" textLength="8.83" lengthAdjust="spacingAndGlyphs">2</text><text x="31.16" y="0" font-size="13.33" textLength="8.83" lengthAdjust="spacingAndGlyphs">5</text><text x="39.99" y="0" font-size="13.33" textLength="4.67" lengthAdjust="spacingAndGlyphs">/</text><text x="44.66" y="0" font-size="13.33" textLength="8.83" lengthAdjust="spacingAndGlyphs">1</text><text x="53.49" y="0" font-size="13.33" textLength="8.83" lengthAdjust="spacingAndGlyphs">4</text></g>
</svg></body></html>
